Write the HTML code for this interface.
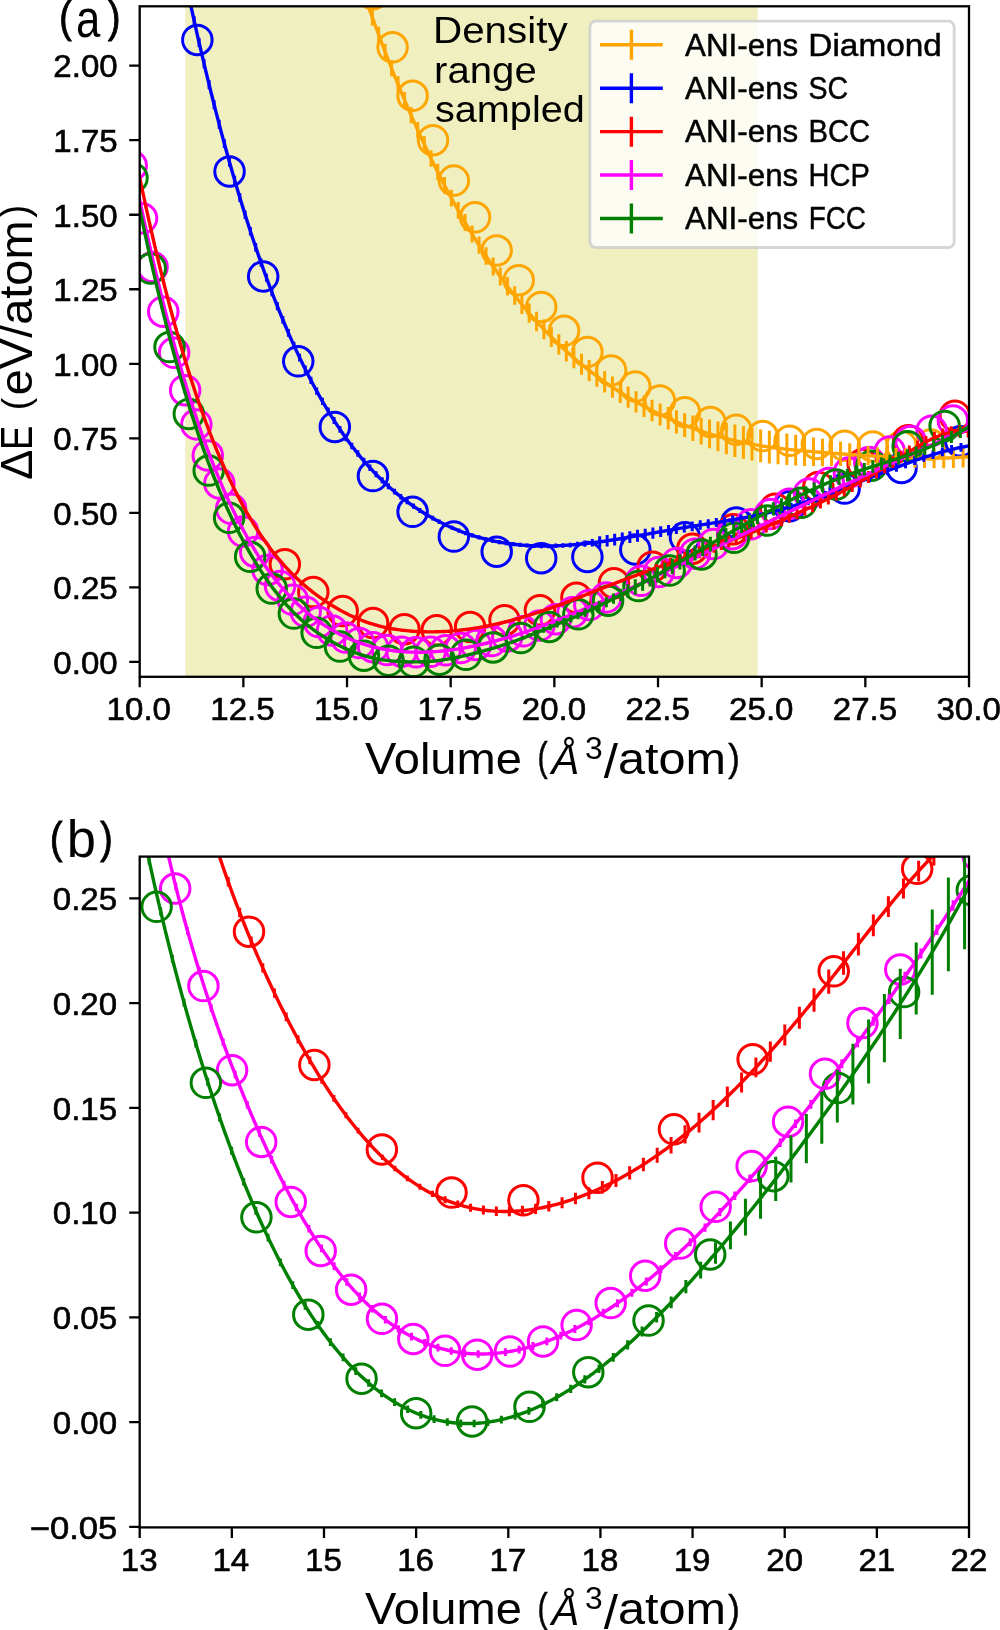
<!DOCTYPE html>
<html><head><meta charset="utf-8"><style>html,body{margin:0;padding:0;background:#fff;overflow:hidden}svg{display:block}</style></head><body>
<svg width="1000" height="1630" viewBox="0 0 1000 1630">
<rect width="1000" height="1630" fill="#fff"/>
<defs><clipPath id="ca"><rect x="139.70" y="6.30" width="829.30" height="670.50"/></clipPath>
<clipPath id="cb"><rect x="139.70" y="856.60" width="829.30" height="670.80"/></clipPath></defs>
<g clip-path="url(#ca)">
<rect x="185.3" y="0" width="572.40" height="700" fill="#EFEFBF"/>
<g fill="none" stroke="#FFA500" stroke-width="3"><circle cx="372.94" cy="-5.80" r="14.75"/><circle cx="392.57" cy="47.26" r="14.75"/><circle cx="412.60" cy="95.86" r="14.75"/><circle cx="433.02" cy="140.23" r="14.75"/><circle cx="453.84" cy="180.62" r="14.75"/><circle cx="475.06" cy="217.27" r="14.75"/><circle cx="496.70" cy="250.41" r="14.75"/><circle cx="518.74" cy="280.24" r="14.75"/><circle cx="541.21" cy="306.97" r="14.75"/><circle cx="564.09" cy="330.79" r="14.75"/><circle cx="587.39" cy="351.88" r="14.75"/><circle cx="611.13" cy="370.40" r="14.75"/><circle cx="635.29" cy="386.52" r="14.75"/><circle cx="659.89" cy="400.38" r="14.75"/><circle cx="684.93" cy="412.13" r="14.75"/><circle cx="710.41" cy="421.92" r="14.75"/><circle cx="736.34" cy="429.87" r="14.75"/><circle cx="762.72" cy="436.11" r="14.75"/><circle cx="789.56" cy="440.77" r="14.75"/><circle cx="816.85" cy="443.97" r="14.75"/><circle cx="844.61" cy="445.83" r="14.75"/><circle cx="872.83" cy="446.45" r="14.75"/><circle cx="901.52" cy="445.95" r="14.75"/><circle cx="930.69" cy="444.43" r="14.75"/><circle cx="960.33" cy="442.00" r="14.75"/></g>
<g fill="none" stroke="#0000FF" stroke-width="3"><circle cx="197.36" cy="39.97" r="14.75"/><circle cx="229.55" cy="171.45" r="14.75"/><circle cx="263.18" cy="276.46" r="14.75"/><circle cx="298.26" cy="361.33" r="14.75"/><circle cx="334.84" cy="426.97" r="14.75"/><circle cx="372.94" cy="476.06" r="14.75"/><circle cx="412.60" cy="511.81" r="14.75"/><circle cx="453.84" cy="536.59" r="14.75"/><circle cx="496.70" cy="551.74" r="14.75"/><circle cx="541.21" cy="558.18" r="14.75"/><circle cx="587.39" cy="556.92" r="14.75"/><circle cx="635.29" cy="549.39" r="14.75"/><circle cx="684.93" cy="537.37" r="14.75"/><circle cx="736.34" cy="522.60" r="14.75"/><circle cx="789.56" cy="506.28" r="14.75"/><circle cx="844.61" cy="488.54" r="14.75"/><circle cx="901.52" cy="467.98" r="14.75"/><circle cx="960.33" cy="441.32" r="14.75"/></g>
<g fill="none" stroke="#FF0000" stroke-width="3"><circle cx="284.83" cy="564.25" r="14.75"/><circle cx="313.29" cy="592.08" r="14.75"/><circle cx="342.69" cy="611.05" r="14.75"/><circle cx="373.06" cy="623.07" r="14.75"/><circle cx="404.41" cy="629.23" r="14.75"/><circle cx="436.76" cy="630.33" r="14.75"/><circle cx="470.11" cy="627.10" r="14.75"/><circle cx="504.50" cy="620.21" r="14.75"/><circle cx="539.92" cy="610.26" r="14.75"/><circle cx="576.40" cy="597.76" r="14.75"/><circle cx="613.96" cy="583.14" r="14.75"/><circle cx="652.60" cy="566.73" r="14.75"/><circle cx="692.35" cy="548.75" r="14.75"/><circle cx="733.21" cy="529.37" r="14.75"/><circle cx="775.21" cy="508.74" r="14.75"/><circle cx="818.37" cy="486.95" r="14.75"/><circle cx="862.68" cy="464.09" r="14.75"/><circle cx="908.18" cy="440.30" r="14.75"/><circle cx="954.88" cy="415.69" r="14.75"/></g>
<g fill="none" stroke="#FF00FF" stroke-width="3"><circle cx="131.71" cy="165.73" r="14.75"/><circle cx="142.05" cy="218.27" r="14.75"/><circle cx="152.56" cy="266.93" r="14.75"/><circle cx="163.25" cy="311.72" r="14.75"/><circle cx="174.11" cy="352.76" r="14.75"/><circle cx="185.15" cy="390.24" r="14.75"/><circle cx="196.37" cy="424.38" r="14.75"/><circle cx="207.77" cy="455.39" r="14.75"/><circle cx="219.36" cy="483.47" r="14.75"/><circle cx="231.13" cy="508.80" r="14.75"/><circle cx="243.08" cy="531.56" r="14.75"/><circle cx="255.22" cy="551.90" r="14.75"/><circle cx="267.55" cy="569.97" r="14.75"/><circle cx="280.07" cy="585.90" r="14.75"/><circle cx="292.77" cy="599.81" r="14.75"/><circle cx="305.68" cy="611.82" r="14.75"/><circle cx="318.77" cy="622.05" r="14.75"/><circle cx="332.06" cy="630.60" r="14.75"/><circle cx="345.55" cy="637.58" r="14.75"/><circle cx="359.24" cy="643.08" r="14.75"/><circle cx="373.12" cy="647.21" r="14.75"/><circle cx="387.21" cy="650.06" r="14.75"/><circle cx="401.50" cy="651.72" r="14.75"/><circle cx="415.99" cy="652.27" r="14.75"/><circle cx="430.69" cy="651.79" r="14.75"/><circle cx="445.60" cy="650.36" r="14.75"/><circle cx="460.71" cy="648.05" r="14.75"/><circle cx="476.04" cy="644.93" r="14.75"/><circle cx="491.57" cy="641.06" r="14.75"/><circle cx="507.32" cy="636.50" r="14.75"/><circle cx="523.29" cy="631.30" r="14.75"/><circle cx="539.46" cy="625.52" r="14.75"/><circle cx="555.86" cy="619.19" r="14.75"/><circle cx="572.47" cy="612.37" r="14.75"/><circle cx="589.31" cy="605.09" r="14.75"/><circle cx="606.37" cy="597.38" r="14.75"/><circle cx="641.15" cy="580.83" r="14.75"/><circle cx="658.88" cy="572.05" r="14.75"/><circle cx="676.83" cy="562.98" r="14.75"/><circle cx="695.02" cy="553.63" r="14.75"/><circle cx="713.43" cy="544.05" r="14.75"/><circle cx="732.08" cy="534.25" r="14.75"/><circle cx="750.96" cy="524.26" r="14.75"/><circle cx="770.08" cy="514.11" r="14.75"/><circle cx="789.43" cy="503.84" r="14.75"/><circle cx="809.02" cy="493.46" r="14.75"/><circle cx="828.84" cy="483.00" r="14.75"/><circle cx="848.91" cy="472.50" r="14.75"/><circle cx="869.22" cy="461.99" r="14.75"/><circle cx="889.77" cy="451.49" r="14.75"/><circle cx="910.57" cy="441.05" r="14.75"/><circle cx="931.61" cy="430.69" r="14.75"/><circle cx="952.90" cy="420.46" r="14.75"/></g>
<g fill="none" stroke="#008000" stroke-width="3"><circle cx="132.49" cy="177.88" r="14.75"/><circle cx="150.73" cy="268.60" r="14.75"/><circle cx="169.50" cy="347.03" r="14.75"/><circle cx="188.82" cy="413.97" r="14.75"/><circle cx="208.70" cy="470.52" r="14.75"/><circle cx="229.13" cy="517.80" r="14.75"/><circle cx="250.13" cy="556.84" r="14.75"/><circle cx="271.71" cy="588.51" r="14.75"/><circle cx="293.87" cy="613.59" r="14.75"/><circle cx="316.62" cy="632.76" r="14.75"/><circle cx="339.97" cy="646.62" r="14.75"/><circle cx="363.92" cy="655.74" r="14.75"/><circle cx="388.49" cy="660.63" r="14.75"/><circle cx="413.68" cy="661.79" r="14.75"/><circle cx="439.50" cy="659.69" r="14.75"/><circle cx="465.96" cy="654.77" r="14.75"/><circle cx="493.06" cy="647.42" r="14.75"/><circle cx="520.82" cy="638.02" r="14.75"/><circle cx="549.24" cy="626.91" r="14.75"/><circle cx="578.33" cy="614.37" r="14.75"/><circle cx="608.09" cy="600.67" r="14.75"/><circle cx="638.54" cy="586.01" r="14.75"/><circle cx="669.67" cy="570.56" r="14.75"/><circle cx="701.51" cy="554.45" r="14.75"/><circle cx="734.06" cy="537.76" r="14.75"/><circle cx="767.32" cy="520.53" r="14.75"/><circle cx="801.31" cy="502.80" r="14.75"/><circle cx="836.02" cy="484.52" r="14.75"/><circle cx="871.47" cy="465.67" r="14.75"/><circle cx="907.67" cy="446.17" r="14.75"/><circle cx="944.63" cy="425.93" r="14.75"/></g>
<path d="M355.32 -31.61 L356.89 -26.92 L358.46 -22.26 L360.03 -17.64 L361.59 -13.06 L363.16 -8.50 L364.73 -3.98 L366.30 0.51 L367.87 4.96 L369.44 9.38 L371.01 13.77 L372.58 18.13 L374.15 22.45 L375.72 26.74 L377.29 31.00 L378.86 35.23 L380.43 39.42 L381.99 43.59 L383.56 47.72 L385.13 51.82 L386.70 55.88 L388.27 59.92 L389.84 63.93 L391.41 67.90 L392.98 71.85 L394.55 75.76 L396.12 79.65 L397.69 83.50 L399.26 87.32 L400.83 91.11 L402.39 94.88 L403.96 98.61 L405.53 102.31 L407.10 105.99 L408.67 109.63 L410.24 113.25 L411.81 116.83 L413.38 120.39 L414.95 123.92 L416.52 127.42 L418.09 130.89 L419.66 134.33 L421.23 137.75 L422.79 141.14 L424.36 144.49 L425.93 147.83 L427.50 151.13 L429.07 154.41 L430.64 157.65 L432.21 160.88 L433.78 164.07 L435.35 167.24 L436.92 170.38 L438.49 173.49 L440.06 176.58 L441.63 179.64 L443.19 182.68 L444.76 185.69 L446.33 188.67 L447.90 191.63 L449.47 194.56 L451.04 197.47 L452.61 200.35 L454.18 203.20 L455.75 206.03 L457.32 208.84 L458.89 211.62 L460.46 214.38 L462.03 217.11 L463.59 219.82 L465.16 222.50 L466.73 225.16 L468.30 227.80 L469.87 230.41 L471.44 233.00 L473.01 235.56 L474.58 238.10 L476.15 240.62 L477.72 243.12 L479.29 245.59 L480.86 248.04 L482.43 250.47 L483.99 252.87 L485.56 255.25 L487.13 257.61 L488.70 259.95 L490.27 262.27 L491.84 264.56 L493.41 266.84 L494.98 269.09 L496.55 271.32 L498.12 273.53 L499.69 275.72 L501.26 277.88 L502.83 280.03 L504.39 282.16 L505.96 284.26 L507.53 286.35 L509.10 288.41 L510.67 290.46 L512.24 292.48 L513.81 294.49 L515.38 296.48 L516.95 298.44 L518.52 300.39 L520.09 302.32 L521.66 304.23 L523.23 306.12 L524.79 307.99 L526.36 309.84 L527.93 311.68 L529.50 313.49 L531.07 315.29 L532.64 317.07 L534.21 318.83 L535.78 320.58 L537.35 322.30 L538.92 324.01 L540.49 325.71 L542.06 327.38 L543.63 329.04 L545.19 330.68 L546.76 332.31 L548.33 333.91 L549.90 335.51 L551.47 337.08 L553.04 338.64 L554.61 340.18 L556.18 341.71 L557.75 343.22 L559.32 344.72 L560.89 346.20 L562.46 347.67 L564.03 349.12 L565.59 350.55 L567.16 351.97 L568.73 353.38 L570.30 354.77 L571.87 356.15 L573.44 357.51 L575.01 358.86 L576.58 360.19 L578.15 361.51 L579.72 362.82 L581.29 364.11 L582.86 365.40 L584.43 366.66 L585.99 367.92 L587.56 369.16 L589.13 370.39 L590.70 371.60 L592.27 372.80 L593.84 373.99 L595.41 375.17 L596.98 376.34 L598.55 377.49 L600.12 378.64 L601.69 379.77 L603.26 380.89 L604.83 381.99 L606.39 383.09 L607.96 384.18 L609.53 385.25 L611.10 386.31 L612.67 387.37 L614.24 388.41 L615.81 389.44 L617.38 390.46 L618.95 391.47 L620.52 392.48 L622.09 393.47 L623.66 394.45 L625.23 395.42 L626.79 396.38 L628.36 397.33 L629.93 398.27 L631.50 399.20 L633.07 400.12 L634.64 401.03 L636.21 401.93 L637.78 402.82 L639.35 403.71 L640.92 404.58 L642.49 405.44 L644.06 406.29 L645.62 407.14 L647.19 407.97 L648.76 408.79 L650.33 409.61 L651.90 410.41 L653.47 411.21 L655.04 411.99 L656.61 412.77 L658.18 413.54 L659.75 414.30 L661.32 415.05 L662.89 415.79 L664.46 416.52 L666.02 417.24 L667.59 417.96 L669.16 418.66 L670.73 419.36 L672.30 420.04 L673.87 420.72 L675.44 421.39 L677.01 422.05 L678.58 422.70 L680.15 423.34 L681.72 423.98 L683.29 424.60 L684.86 425.22 L686.42 425.83 L687.99 426.43 L689.56 427.02 L691.13 427.61 L692.70 428.18 L694.27 428.75 L695.84 429.31 L697.41 429.86 L698.98 430.40 L700.55 430.94 L702.12 431.47 L703.69 431.98 L705.26 432.50 L706.82 433.00 L708.39 433.49 L709.96 433.98 L711.53 434.46 L713.10 434.93 L714.67 435.40 L716.24 435.85 L717.81 436.30 L719.38 436.74 L720.95 437.18 L722.52 437.60 L724.09 438.02 L725.66 438.43 L727.22 438.84 L728.79 439.23 L730.36 439.62 L731.93 440.01 L733.50 440.38 L735.07 440.75 L736.64 441.11 L738.21 441.46 L739.78 441.81 L741.35 442.15 L742.92 442.48 L744.49 442.81 L746.06 443.13 L747.62 443.44 L749.19 443.75 L750.76 444.05 L752.33 444.34 L753.90 444.63 L755.47 444.90 L757.04 445.18 L758.61 445.44 L760.18 445.70 L761.75 445.96 L763.32 446.20 L764.89 446.44 L766.46 446.68 L768.02 446.91 L769.59 447.13 L771.16 447.35 L772.73 447.56 L774.30 447.77 L775.87 447.97 L777.44 448.17 L779.01 448.37 L780.58 448.55 L782.15 448.74 L783.72 448.92 L785.29 449.10 L786.86 449.27 L788.42 449.44 L789.99 449.60 L791.56 449.77 L793.13 449.92 L794.70 450.08 L796.27 450.23 L797.84 450.38 L799.41 450.53 L800.98 450.68 L802.55 450.82 L804.12 450.96 L805.69 451.10 L807.26 451.24 L808.82 451.37 L810.39 451.51 L811.96 451.64 L813.53 451.77 L815.10 451.90 L816.67 452.03 L818.24 452.15 L819.81 452.28 L821.38 452.40 L822.95 452.52 L824.52 452.64 L826.09 452.76 L827.66 452.88 L829.22 453.00 L830.79 453.12 L832.36 453.23 L833.93 453.35 L835.50 453.46 L837.07 453.57 L838.64 453.68 L840.21 453.79 L841.78 453.90 L843.35 454.01 L844.92 454.12 L846.49 454.23 L848.06 454.34 L849.62 454.45 L851.19 454.55 L852.76 454.66 L854.33 454.77 L855.90 454.87 L857.47 454.98 L859.04 455.08 L860.61 455.19 L862.18 455.29 L863.75 455.40 L865.32 455.50 L866.89 455.61 L868.46 455.71 L870.02 455.81 L871.59 455.91 L873.16 456.01 L874.73 456.11 L876.30 456.21 L877.87 456.30 L879.44 456.40 L881.01 456.49 L882.58 456.59 L884.15 456.68 L885.72 456.77 L887.29 456.85 L888.86 456.94 L890.42 457.02 L891.99 457.11 L893.56 457.18 L895.13 457.26 L896.70 457.34 L898.27 457.41 L899.84 457.48 L901.41 457.55 L902.98 457.61 L904.55 457.67 L906.12 457.73 L907.69 457.79 L909.26 457.84 L910.82 457.89 L912.39 457.94 L913.96 457.98 L915.53 458.02 L917.10 458.06 L918.67 458.09 L920.24 458.12 L921.81 458.15 L923.38 458.17 L924.95 458.19 L926.52 458.20 L928.09 458.22 L929.66 458.22 L931.22 458.22 L932.79 458.22 L934.36 458.21 L935.93 458.20 L937.50 458.18 L939.07 458.16 L940.64 458.14 L942.21 458.11 L943.78 458.07 L945.35 458.03 L946.92 457.98 L948.49 457.93 L950.05 457.88 L951.62 457.81 L953.19 457.75 L954.76 457.67 L956.33 457.59 L957.90 457.51 L959.47 457.42 L961.04 457.32 L962.61 457.22 L964.18 457.11 L965.75 456.99 L967.32 456.87 L968.89 456.74 L970.45 456.61 L972.02 456.47 L973.59 456.32 L975.16 456.17 L976.73 456.00 L978.30 455.84 L979.87 455.66 L981.44 455.48" fill="none" stroke="#FFA500" stroke-width="3.4" stroke-linejoin="round"/><path d="M347.36 -47.88V-63.98 M353.55 -28.90V-45.00 M359.77 -10.33V-26.43 M366.05 7.82V-8.27 M372.36 25.56V9.46 M378.71 42.89V26.79 M385.11 59.79V43.70 M391.54 76.28V60.19 M398.02 92.36V76.26 M404.54 108.04V91.90 M411.10 123.33V107.10 M417.71 138.20V121.89 M424.35 152.66V136.27 M431.04 166.72V150.24 M437.77 180.36V163.79 M444.54 193.59V176.94 M451.36 206.42V189.69 M458.22 218.85V202.03 M465.12 230.89V213.98 M472.07 242.53V225.52 M479.06 253.87V236.59 M486.09 264.82V247.28 M493.17 275.39V257.58 M500.29 285.58V267.51 M507.45 295.41V277.07 M514.66 304.87V286.26 M521.91 313.97V295.09 M529.20 322.72V303.57 M536.54 331.13V311.71 M543.93 339.21V319.51 M551.36 346.96V326.98 M558.83 354.39V334.13 M566.35 361.51V340.97 M573.92 368.33V347.51 M581.53 374.77V353.85 M589.18 380.91V359.94 M596.88 386.78V365.75 M604.63 392.40V371.31 M612.42 397.77V376.62 M620.26 402.92V381.70 M628.14 407.83V386.56 M636.07 412.52V391.19 M644.05 416.98V395.59 M652.07 421.23V399.77 M660.14 425.48V403.49 M668.25 429.54V406.96 M676.42 433.39V410.21 M684.63 437.03V413.24 M692.88 440.90V415.59 M701.19 444.62V417.69 M709.54 448.13V419.57 M717.94 451.27V421.41 M726.38 454.20V423.04 M734.88 456.93V424.48 M743.42 458.87V426.31 M752.01 460.60V427.96 M760.65 462.14V429.42 M769.33 463.48V430.71 M778.07 464.34V432.16 M786.85 465.05V433.48 M795.68 465.52V434.83 M804.56 465.89V436.11 M813.49 466.05V437.49 M822.47 466.14V438.83 M831.50 466.07V440.27 M840.58 465.95V441.69 M849.71 465.69V443.22 M858.88 465.42V444.72 M868.11 465.26V446.11 M877.39 465.25V447.30 M886.71 465.97V447.67 M896.09 466.63V447.98 M905.52 467.21V448.21 M915.00 467.69V448.33 M924.52 468.04V448.33 M934.10 468.19V448.24 M943.73 468.17V447.97 M953.41 467.97V447.51 M963.15 467.54V446.82 M972.93 466.82V445.95" fill="none" stroke="#FFA500" stroke-width="3.0"/>
<path d="M181.16 -40.00 L183.17 -30.30 L185.18 -20.72 L187.18 -11.26 L189.19 -1.92 L191.19 7.30 L193.20 16.41 L195.20 25.40 L197.21 34.27 L199.22 43.03 L201.22 51.68 L203.23 60.22 L205.23 68.64 L207.24 76.96 L209.24 85.17 L211.25 93.27 L213.26 101.26 L215.26 109.15 L217.27 116.93 L219.27 124.61 L221.28 132.19 L223.28 139.66 L225.29 147.04 L227.30 154.31 L229.30 161.49 L231.31 168.56 L233.31 175.54 L235.32 182.43 L237.32 189.21 L239.33 195.91 L241.34 202.51 L243.34 209.02 L245.35 215.44 L247.35 221.77 L249.36 228.00 L251.36 234.16 L253.37 240.22 L255.38 246.20 L257.38 252.09 L259.39 257.90 L261.39 263.62 L263.40 269.26 L265.40 274.82 L267.41 280.30 L269.42 285.69 L271.42 291.00 L273.43 296.24 L275.43 301.40 L277.44 306.47 L279.44 311.47 L281.45 316.40 L283.46 321.24 L285.46 326.01 L287.47 330.71 L289.47 335.33 L291.48 339.88 L293.48 344.36 L295.49 348.76 L297.50 353.10 L299.50 357.36 L301.51 361.55 L303.51 365.68 L305.52 369.73 L307.52 373.72 L309.53 377.64 L311.54 381.49 L313.54 385.28 L315.55 389.00 L317.55 392.66 L319.56 396.26 L321.56 399.79 L323.57 403.26 L325.58 406.67 L327.58 410.02 L329.59 413.30 L331.59 416.53 L333.60 419.70 L335.60 422.82 L337.61 425.87 L339.62 428.87 L341.62 431.81 L343.63 434.70 L345.63 437.53 L347.64 440.31 L349.64 443.03 L351.65 445.71 L353.66 448.33 L355.66 450.90 L357.67 453.42 L359.67 455.89 L361.68 458.31 L363.68 460.69 L365.69 463.01 L367.70 465.29 L369.70 467.53 L371.71 469.71 L373.71 471.86 L375.72 473.96 L377.72 476.01 L379.73 478.03 L381.74 480.00 L383.74 481.93 L385.75 483.82 L387.75 485.67 L389.76 487.48 L391.76 489.26 L393.77 490.99 L395.77 492.69 L397.78 494.35 L399.79 495.98 L401.79 497.57 L403.80 499.13 L405.80 500.65 L407.81 502.15 L409.81 503.61 L411.82 505.03 L413.83 506.43 L415.83 507.80 L417.84 509.14 L419.84 510.45 L421.85 511.73 L423.85 512.98 L425.86 514.21 L427.87 515.41 L429.87 516.58 L431.88 517.72 L433.88 518.84 L435.89 519.93 L437.89 521.00 L439.90 522.03 L441.91 523.05 L443.91 524.03 L445.92 524.99 L447.92 525.93 L449.93 526.84 L451.93 527.73 L453.94 528.59 L455.95 529.43 L457.95 530.24 L459.96 531.03 L461.96 531.80 L463.97 532.54 L465.97 533.27 L467.98 533.96 L469.99 534.64 L471.99 535.29 L474.00 535.92 L476.00 536.53 L478.01 537.12 L480.01 537.69 L482.02 538.23 L484.03 538.76 L486.03 539.26 L488.04 539.75 L490.04 540.21 L492.05 540.65 L494.05 541.08 L496.06 541.48 L498.07 541.87 L500.07 542.23 L502.08 542.58 L504.08 542.91 L506.09 543.22 L508.09 543.52 L510.10 543.79 L512.11 544.05 L514.11 544.29 L516.12 544.52 L518.12 544.72 L520.13 544.92 L522.13 545.09 L524.14 545.25 L526.15 545.39 L528.15 545.52 L530.16 545.63 L532.16 545.73 L534.17 545.81 L536.17 545.88 L538.18 545.93 L540.19 545.97 L542.19 545.99 L544.20 546.01 L546.20 546.00 L548.21 545.99 L550.21 545.96 L552.22 545.92 L554.23 545.87 L556.23 545.80 L558.24 545.72 L560.24 545.63 L562.25 545.53 L564.25 545.42 L566.26 545.30 L568.27 545.17 L570.27 545.02 L572.28 544.87 L574.28 544.70 L576.29 544.53 L578.29 544.35 L580.30 544.15 L582.31 543.95 L584.31 543.74 L586.32 543.52 L588.32 543.29 L590.33 543.06 L592.33 542.81 L594.34 542.56 L596.35 542.30 L598.35 542.04 L600.36 541.76 L602.36 541.48 L604.37 541.20 L606.37 540.91 L608.38 540.61 L610.38 540.30 L612.39 540.00 L614.40 539.68 L616.40 539.36 L618.41 539.04 L620.41 538.71 L622.42 538.38 L624.42 538.05 L626.43 537.71 L628.44 537.37 L630.44 537.02 L632.45 536.68 L634.45 536.33 L636.46 535.97 L638.46 535.62 L640.47 535.26 L642.48 534.91 L644.48 534.55 L646.49 534.19 L648.49 533.83 L650.50 533.47 L652.50 533.11 L654.51 532.75 L656.52 532.39 L658.52 532.03 L660.53 531.67 L662.53 531.31 L664.54 530.96 L666.54 530.60 L668.55 530.25 L670.56 529.90 L672.56 529.55 L674.57 529.21 L676.57 528.87 L678.58 528.53 L680.58 528.19 L682.59 527.86 L684.60 527.53 L686.60 527.21 L688.61 526.88 L690.61 526.56 L692.62 526.25 L694.62 525.93 L696.63 525.61 L698.64 525.30 L700.64 524.99 L702.65 524.67 L704.65 524.36 L706.66 524.05 L708.66 523.73 L710.67 523.42 L712.68 523.10 L714.68 522.79 L716.69 522.47 L718.69 522.15 L720.70 521.82 L722.70 521.50 L724.71 521.17 L726.72 520.84 L728.72 520.50 L730.73 520.17 L732.73 519.82 L734.74 519.47 L736.74 519.12 L738.75 518.77 L740.76 518.40 L742.76 518.03 L744.77 517.66 L746.77 517.28 L748.78 516.89 L750.78 516.50 L752.79 516.09 L754.80 515.68 L756.80 515.27 L758.81 514.84 L760.81 514.41 L762.82 513.97 L764.82 513.51 L766.83 513.05 L768.84 512.58 L770.84 512.10 L772.85 511.61 L774.85 511.11 L776.86 510.59 L778.86 510.07 L780.87 509.53 L782.88 508.99 L784.88 508.43 L786.89 507.86 L788.89 507.28 L790.90 506.69 L792.90 506.08 L794.91 505.47 L796.92 504.85 L798.92 504.22 L800.93 503.58 L802.93 502.93 L804.94 502.27 L806.94 501.60 L808.95 500.93 L810.95 500.24 L812.96 499.55 L814.97 498.86 L816.97 498.15 L818.98 497.44 L820.98 496.72 L822.99 495.99 L824.99 495.26 L827.00 494.52 L829.01 493.78 L831.01 493.03 L833.02 492.28 L835.02 491.52 L837.03 490.76 L839.03 489.99 L841.04 489.22 L843.05 488.44 L845.05 487.66 L847.06 486.88 L849.06 486.10 L851.07 485.31 L853.07 484.52 L855.08 483.73 L857.09 482.93 L859.09 482.14 L861.10 481.34 L863.10 480.54 L865.11 479.74 L867.11 478.94 L869.12 478.14 L871.13 477.34 L873.13 476.54 L875.14 475.74 L877.14 474.94 L879.15 474.14 L881.15 473.35 L883.16 472.55 L885.17 471.76 L887.17 470.97 L889.18 470.19 L891.18 469.41 L893.19 468.63 L895.19 467.86 L897.20 467.09 L899.21 466.33 L901.21 465.57 L903.22 464.82 L905.22 464.07 L907.23 463.33 L909.23 462.60 L911.24 461.88 L913.25 461.16 L915.25 460.45 L917.26 459.75 L919.26 459.06 L921.27 458.38 L923.27 457.71 L925.28 457.05 L927.29 456.40 L929.29 455.76 L931.30 455.13 L933.30 454.51 L935.31 453.91 L937.31 453.31 L939.32 452.73 L941.33 452.17 L943.33 451.61 L945.34 451.07 L947.34 450.55 L949.35 450.04 L951.35 449.54 L953.36 449.06 L955.37 448.60 L957.37 448.15 L959.38 447.72 L961.38 447.30 L963.39 446.91 L965.39 446.53 L967.40 446.16 L969.41 445.82 L971.41 445.50 L973.42 445.19 L975.42 444.91 L977.43 444.64 L979.43 444.40 L981.44 444.17" fill="none" stroke="#0000FF" stroke-width="3.4" stroke-linejoin="round"/><path d="M179.55 -43.43V-52.37 M184.38 -20.02V-28.96 M189.25 2.86V-6.09 M194.16 25.19V16.25 M199.10 46.98V38.04 M204.07 68.24V59.30 M209.08 88.96V80.01 M214.12 109.14V100.20 M219.20 128.79V119.85 M224.31 147.90V138.98 M229.46 166.44V157.62 M234.64 184.46V175.74 M239.86 201.97V193.33 M245.11 218.95V210.41 M250.40 235.43V226.98 M255.72 251.40V243.05 M261.09 266.87V258.62 M266.48 281.85V273.69 M271.91 296.33V288.27 M277.38 310.31V302.36 M282.89 323.81V315.95 M288.43 336.82V329.06 M294.01 349.35V341.69 M299.62 361.40V353.84 M305.28 372.97V365.52 M310.97 384.08V376.73 M316.69 394.73V387.47 M322.45 404.91V397.76 M328.26 414.65V407.61 M334.09 423.95V417.01 M339.97 432.81V425.97 M345.88 441.24V434.51 M351.83 449.26V442.64 M357.82 456.87V450.36 M363.85 464.08V457.68 M369.91 470.91V464.61 M376.02 477.36V471.17 M382.16 483.45V477.37 M388.34 489.19V483.22 M394.56 494.56V488.77 M400.81 499.60V494.00 M407.11 504.34V498.92 M413.45 508.79V503.55 M419.82 512.96V507.90 M426.23 516.87V512.00 M432.69 520.52V515.83 M439.18 523.92V519.41 M445.71 527.06V522.74 M452.28 529.97V525.79 M458.90 532.70V528.53 M465.55 535.20V531.03 M472.24 537.46V533.28 M478.97 539.48V535.31 M485.74 541.28V537.10 M492.56 542.85V538.68 M499.41 544.20V540.03 M506.30 545.34V541.17 M513.24 546.28V542.10 M520.21 547.01V542.84 M527.23 547.55V543.38 M534.29 547.91V543.72 M541.39 548.13V543.84 M548.53 548.18V543.79 M555.71 548.06V543.57 M562.93 547.79V543.20 M570.20 547.38V542.68 M577.51 546.98V541.86 M584.85 546.77V540.59 M592.25 546.55V539.10 M599.68 547.45V536.26 M607.16 546.51V535.07 M614.67 545.42V533.86 M622.24 544.25V532.57 M629.84 543.03V531.22 M637.49 541.75V529.83 M645.18 540.22V528.63 M652.91 538.66V527.41 M660.68 537.10V526.19 M668.50 535.55V524.97 M676.37 534.02V523.78 M684.27 532.57V522.60 M692.22 531.18V521.43 M700.22 529.81V520.29 M708.25 528.44V519.15 M716.33 527.05V518.00 M724.46 525.62V516.80 M732.63 524.13V515.55 M740.85 522.56V514.21 M749.10 520.88V512.77 M757.41 519.08V511.20 M765.76 517.19V509.41 M774.15 515.20V507.37 M782.59 513.00V505.13 M791.07 510.59V502.67 M799.60 507.99V500.02 M808.17 505.20V497.18 M816.79 502.25V494.18 M825.46 499.15V491.03 M834.17 495.93V487.76 M842.93 492.60V484.38 M851.73 489.18V480.92 M860.58 485.71V477.39 M869.47 482.19V473.81 M878.41 478.65V470.22 M887.40 475.12V466.65 M896.44 471.64V463.12 M905.52 468.25V459.67 M914.65 464.98V456.35 M923.82 461.87V453.19 M933.04 458.96V450.22 M942.31 456.29V447.50 M951.63 453.90V445.05 M960.99 451.83V442.93 M970.40 450.13V441.19" fill="none" stroke="#0000FF" stroke-width="3.0"/>
<path d="M131.41 136.39 L133.54 147.21 L135.67 157.86 L137.80 168.33 L139.93 178.64 L142.06 188.78 L144.19 198.75 L146.32 208.55 L148.45 218.20 L150.58 227.68 L152.71 237.00 L154.84 246.16 L156.97 255.17 L159.10 264.02 L161.23 272.72 L163.36 281.26 L165.49 289.65 L167.62 297.90 L169.75 305.99 L171.88 313.94 L174.02 321.75 L176.15 329.41 L178.28 336.93 L180.41 344.31 L182.54 351.55 L184.67 358.65 L186.80 365.62 L188.93 372.45 L191.06 379.15 L193.19 385.72 L195.32 392.16 L197.45 398.47 L199.58 404.66 L201.71 410.72 L203.84 416.66 L205.97 422.47 L208.10 428.17 L210.23 433.75 L212.36 439.21 L214.49 444.55 L216.62 449.78 L218.75 454.90 L220.88 459.90 L223.01 464.80 L225.14 469.59 L227.28 474.27 L229.41 478.85 L231.54 483.32 L233.67 487.69 L235.80 491.97 L237.93 496.14 L240.06 500.21 L242.19 504.19 L244.32 508.08 L246.45 511.87 L248.58 515.57 L250.71 519.19 L252.84 522.71 L254.97 526.15 L257.10 529.50 L259.23 532.77 L261.36 535.96 L263.49 539.06 L265.62 542.09 L267.75 545.04 L269.88 547.92 L272.01 550.72 L274.14 553.45 L276.27 556.10 L278.41 558.69 L280.54 561.21 L282.67 563.66 L284.80 566.05 L286.93 568.37 L289.06 570.64 L291.19 572.84 L293.32 574.98 L295.45 577.07 L297.58 579.09 L299.71 581.07 L301.84 582.99 L303.97 584.86 L306.10 586.68 L308.23 588.46 L310.36 590.18 L312.49 591.87 L314.62 593.50 L316.75 595.10 L318.88 596.65 L321.01 598.17 L323.14 599.65 L325.27 601.09 L327.40 602.50 L329.53 603.87 L331.67 605.21 L333.80 606.51 L335.93 607.78 L338.06 609.01 L340.19 610.21 L342.32 611.37 L344.45 612.50 L346.58 613.59 L348.71 614.65 L350.84 615.67 L352.97 616.66 L355.10 617.61 L357.23 618.53 L359.36 619.41 L361.49 620.26 L363.62 621.07 L365.75 621.84 L367.88 622.58 L370.01 623.29 L372.14 623.96 L374.27 624.60 L376.40 625.20 L378.53 625.78 L380.66 626.32 L382.80 626.83 L384.93 627.31 L387.06 627.76 L389.19 628.19 L391.32 628.59 L393.45 628.96 L395.58 629.30 L397.71 629.62 L399.84 629.92 L401.97 630.19 L404.10 630.43 L406.23 630.66 L408.36 630.87 L410.49 631.05 L412.62 631.21 L414.75 631.36 L416.88 631.48 L419.01 631.59 L421.14 631.68 L423.27 631.75 L425.40 631.80 L427.53 631.83 L429.66 631.85 L431.79 631.85 L433.92 631.83 L436.06 631.79 L438.19 631.73 L440.32 631.66 L442.45 631.57 L444.58 631.47 L446.71 631.34 L448.84 631.20 L450.97 631.04 L453.10 630.87 L455.23 630.68 L457.36 630.48 L459.49 630.26 L461.62 630.02 L463.75 629.77 L465.88 629.50 L468.01 629.21 L470.14 628.92 L472.27 628.60 L474.40 628.27 L476.53 627.93 L478.66 627.57 L480.79 627.20 L482.92 626.82 L485.05 626.42 L487.19 626.00 L489.32 625.57 L491.45 625.13 L493.58 624.68 L495.71 624.21 L497.84 623.73 L499.97 623.23 L502.10 622.73 L504.23 622.21 L506.36 621.67 L508.49 621.13 L510.62 620.57 L512.75 620.00 L514.88 619.42 L517.01 618.83 L519.14 618.22 L521.27 617.61 L523.40 616.98 L525.53 616.34 L527.66 615.69 L529.79 615.03 L531.92 614.37 L534.05 613.69 L536.18 613.00 L538.31 612.30 L540.45 611.59 L542.58 610.87 L544.71 610.15 L546.84 609.41 L548.97 608.67 L551.10 607.92 L553.23 607.16 L555.36 606.39 L557.49 605.62 L559.62 604.84 L561.75 604.05 L563.88 603.26 L566.01 602.45 L568.14 601.65 L570.27 600.83 L572.40 600.01 L574.53 599.19 L576.66 598.36 L578.79 597.52 L580.92 596.69 L583.05 595.85 L585.18 595.01 L587.31 594.16 L589.44 593.32 L591.57 592.47 L593.71 591.63 L595.84 590.78 L597.97 589.93 L600.10 589.09 L602.23 588.25 L604.36 587.41 L606.49 586.57 L608.62 585.74 L610.75 584.91 L612.88 584.08 L615.01 583.26 L617.14 582.44 L619.27 581.63 L621.40 580.81 L623.53 580.00 L625.66 579.20 L627.79 578.39 L629.92 577.59 L632.05 576.79 L634.18 576.00 L636.31 575.20 L638.44 574.41 L640.57 573.62 L642.70 572.84 L644.84 572.05 L646.97 571.27 L649.10 570.48 L651.23 569.70 L653.36 568.93 L655.49 568.15 L657.62 567.37 L659.75 566.59 L661.88 565.82 L664.01 565.05 L666.14 564.27 L668.27 563.50 L670.40 562.73 L672.53 561.96 L674.66 561.18 L676.79 560.41 L678.92 559.64 L681.05 558.87 L683.18 558.10 L685.31 557.33 L687.44 556.55 L689.57 555.78 L691.70 555.01 L693.83 554.23 L695.96 553.46 L698.10 552.68 L700.23 551.90 L702.36 551.12 L704.49 550.34 L706.62 549.56 L708.75 548.78 L710.88 547.99 L713.01 547.21 L715.14 546.42 L717.27 545.63 L719.40 544.83 L721.53 544.04 L723.66 543.24 L725.79 542.44 L727.92 541.64 L730.05 540.83 L732.18 540.02 L734.31 539.21 L736.44 538.39 L738.57 537.58 L740.70 536.76 L742.83 535.93 L744.96 535.10 L747.09 534.27 L749.23 533.43 L751.36 532.59 L753.49 531.75 L755.62 530.90 L757.75 530.05 L759.88 529.19 L762.01 528.33 L764.14 527.46 L766.27 526.59 L768.40 525.72 L770.53 524.84 L772.66 523.95 L774.79 523.06 L776.92 522.16 L779.05 521.26 L781.18 520.35 L783.31 519.44 L785.44 518.52 L787.57 517.60 L789.70 516.67 L791.83 515.73 L793.96 514.79 L796.09 513.84 L798.22 512.88 L800.35 511.92 L802.49 510.95 L804.62 509.97 L806.75 508.99 L808.88 508.00 L811.01 507.00 L813.14 506.00 L815.27 504.99 L817.40 503.97 L819.53 502.94 L821.66 501.90 L823.79 500.86 L825.92 499.81 L828.05 498.75 L830.18 497.68 L832.31 496.61 L834.44 495.52 L836.57 494.43 L838.70 493.33 L840.83 492.22 L842.96 491.10 L845.09 489.97 L847.22 488.84 L849.35 487.69 L851.48 486.53 L853.62 485.37 L855.75 484.19 L857.88 483.01 L860.01 481.81 L862.14 480.61 L864.27 479.39 L866.40 478.17 L868.53 476.93 L870.66 475.69 L872.79 474.43 L874.92 473.16 L877.05 471.89 L879.18 470.60 L881.31 469.30 L883.44 467.99 L885.57 466.66 L887.70 465.33 L889.83 463.99 L891.96 462.63 L894.09 461.26 L896.22 459.89 L898.35 458.52 L900.48 457.15 L902.61 455.78 L904.74 454.41 L906.88 453.06 L909.01 451.72 L911.14 450.39 L913.27 449.09 L915.40 447.80 L917.53 446.54 L919.66 445.31 L921.79 444.11 L923.92 442.94 L926.05 441.81 L928.18 440.71 L930.31 439.67 L932.44 438.66 L934.57 437.71 L936.70 436.81 L938.83 435.96 L940.96 435.18 L943.09 434.45 L945.22 433.79 L947.35 433.19 L949.48 432.67 L951.61 432.22 L953.74 431.84 L955.87 431.55 L958.01 431.34 L960.14 431.21 L962.27 431.17 L964.40 431.23 L966.53 431.38 L968.66 431.62 L970.79 431.97 L972.92 432.42 L975.05 432.98 L977.18 433.65 L979.31 434.43 L981.44 435.33" fill="none" stroke="#FF0000" stroke-width="3.4" stroke-linejoin="round"/><path d="M133.74 149.00V147.51 M137.84 169.26V167.77 M141.95 189.02V187.53 M146.10 208.29V206.80 M150.27 227.05V225.57 M154.47 245.32V243.85 M158.70 263.09V261.62 M162.95 280.37V278.90 M167.24 297.15V295.68 M171.55 313.43V311.97 M175.89 329.22V327.76 M180.25 344.51V343.06 M184.65 359.32V357.87 M189.07 373.63V372.19 M193.52 387.46V386.03 M198.00 400.81V399.38 M202.51 413.69V412.26 M207.05 426.09V424.66 M211.62 438.02V436.60 M216.21 449.48V448.07 M220.83 460.49V459.08 M225.49 471.05V469.64 M230.17 481.16V479.76 M234.88 490.83V489.43 M239.62 500.08V498.68 M244.39 508.90V507.50 M249.18 517.30V515.92 M254.01 525.30V523.92 M258.87 532.91V531.53 M263.75 540.13V538.76 M268.67 546.98V545.61 M273.62 553.46V552.10 M278.59 559.60V558.24 M283.60 565.39V564.04 M288.64 570.87V569.52 M293.70 576.03V574.69 M298.80 580.90V579.56 M303.93 585.49V584.16 M309.08 589.82V588.49 M314.27 593.90V592.58 M319.49 597.75V596.43 M324.74 601.39V600.08 M330.02 604.81V603.55 M335.33 608.02V606.84 M340.67 611.03V609.93 M346.05 613.84V612.81 M351.45 616.44V615.49 M356.89 618.82V617.95 M362.36 620.99V620.19 M367.85 622.93V622.22 M373.38 624.71V623.96 M378.95 626.28V625.49 M384.54 627.64V626.82 M390.16 628.80V627.95 M395.82 629.78V628.89 M401.51 630.62V629.64 M407.23 631.29V630.22 M412.99 631.82V630.66 M418.77 632.21V630.95 M424.59 632.45V631.12 M430.44 632.54V631.16 M436.32 632.49V631.08 M442.24 632.31V630.85 M448.19 632.00V630.49 M454.17 631.57V629.99 M460.18 631.01V629.35 M466.23 630.32V628.59 M472.31 629.49V627.70 M478.42 628.53V626.70 M484.57 627.44V625.57 M490.75 626.24V624.32 M496.96 624.99V622.87 M503.21 623.62V621.30 M509.49 622.18V619.56 M515.80 620.57V617.76 M522.15 618.78V615.92 M528.53 616.89V613.97 M534.95 614.83V611.97 M541.40 612.67V609.87 M547.88 610.50V607.61 M554.40 608.23V605.25 M560.95 605.93V602.77 M567.54 603.55V600.20 M574.16 601.05V597.61 M580.81 598.41V595.05 M587.51 595.71V592.47 M594.23 592.97V589.86 M600.99 590.22V587.25 M607.79 587.50V584.63 M614.62 584.89V581.94 M621.48 582.31V579.26 M628.38 579.75V576.60 M635.32 577.20V573.95 M642.29 575.20V570.78 M649.30 573.42V567.40 M656.34 571.65V564.03 M663.42 569.81V560.71 M670.53 567.65V557.71 M677.68 565.49V554.69 M684.87 563.32V551.66 M692.09 560.83V548.90 M699.35 558.19V546.26 M706.64 555.51V543.59 M713.97 552.81V540.89 M721.34 550.07V538.15 M728.74 547.29V535.36 M736.18 544.46V532.53 M743.66 541.57V529.65 M751.17 538.63V526.70 M758.72 535.62V523.69 M766.31 532.54V520.61 M773.94 529.38V517.46 M781.60 526.14V514.22 M789.30 522.81V510.88 M797.03 519.38V507.46 M804.80 515.85V503.92 M812.62 512.21V500.28 M820.46 508.45V496.52 M828.35 504.56V492.64 M836.27 500.55V488.62 M844.24 496.39V484.47 M852.24 492.09V480.16 M860.27 487.62V475.70 M868.35 483.00V471.08 M876.46 478.20V466.28 M884.62 473.22V461.30 M892.81 468.05V456.13 M901.03 462.75V450.83 M909.30 457.50V445.57 M917.61 452.45V440.53 M925.95 447.82V435.89 M934.34 443.77V431.85 M942.76 440.52V428.60 M951.22 438.26V426.33 M959.72 437.19V425.27 M968.26 437.53V425.61 M976.84 439.50V427.58" fill="none" stroke="#FF0000" stroke-width="3.0"/>
<path d="M131.41 159.01 L133.54 169.77 L135.67 180.36 L137.80 190.78 L139.93 201.05 L142.06 211.14 L144.19 221.08 L146.32 230.86 L148.45 240.47 L150.58 249.93 L152.71 259.24 L154.84 268.39 L156.97 277.38 L159.10 286.23 L161.23 294.92 L163.36 303.47 L165.49 311.87 L167.62 320.12 L169.75 328.23 L171.88 336.19 L174.02 344.02 L176.15 351.70 L178.28 359.25 L180.41 366.65 L182.54 373.92 L184.67 381.06 L186.80 388.06 L188.93 394.93 L191.06 401.67 L193.19 408.29 L195.32 414.77 L197.45 421.13 L199.58 427.37 L201.71 433.48 L203.84 439.47 L205.97 445.33 L208.10 451.08 L210.23 456.72 L212.36 462.23 L214.49 467.64 L216.62 472.92 L218.75 478.10 L220.88 483.17 L223.01 488.12 L225.14 492.97 L227.28 497.72 L229.41 502.36 L231.54 506.89 L233.67 511.33 L235.80 515.66 L237.93 519.90 L240.06 524.03 L242.19 528.07 L244.32 532.02 L246.45 535.87 L248.58 539.63 L250.71 543.30 L252.84 546.89 L254.97 550.38 L257.10 553.79 L259.23 557.11 L261.36 560.35 L263.49 563.51 L265.62 566.58 L267.75 569.58 L269.88 572.50 L272.01 575.35 L274.14 578.12 L276.27 580.81 L278.41 583.44 L280.54 585.99 L282.67 588.47 L284.80 590.89 L286.93 593.24 L289.06 595.53 L291.19 597.75 L293.32 599.91 L295.45 602.01 L297.58 604.05 L299.71 606.03 L301.84 607.96 L303.97 609.83 L306.10 611.65 L308.23 613.41 L310.36 615.13 L312.49 616.79 L314.62 618.41 L316.75 619.99 L318.88 621.51 L321.01 622.99 L323.14 624.43 L325.27 625.83 L327.40 627.18 L329.53 628.49 L331.67 629.76 L333.80 630.98 L335.93 632.17 L338.06 633.32 L340.19 634.42 L342.32 635.49 L344.45 636.52 L346.58 637.51 L348.71 638.46 L350.84 639.37 L352.97 640.25 L355.10 641.10 L357.23 641.90 L359.36 642.67 L361.49 643.41 L363.62 644.12 L365.75 644.79 L367.88 645.42 L370.01 646.03 L372.14 646.60 L374.27 647.15 L376.40 647.66 L378.53 648.14 L380.66 648.59 L382.80 649.01 L384.93 649.41 L387.06 649.77 L389.19 650.11 L391.32 650.42 L393.45 650.71 L395.58 650.97 L397.71 651.20 L399.84 651.41 L401.97 651.59 L404.10 651.75 L406.23 651.89 L408.36 652.00 L410.49 652.09 L412.62 652.16 L414.75 652.21 L416.88 652.24 L419.01 652.25 L421.14 652.23 L423.27 652.20 L425.40 652.14 L427.53 652.07 L429.66 651.98 L431.79 651.86 L433.92 651.73 L436.06 651.58 L438.19 651.41 L440.32 651.22 L442.45 651.01 L444.58 650.79 L446.71 650.55 L448.84 650.29 L450.97 650.01 L453.10 649.72 L455.23 649.41 L457.36 649.08 L459.49 648.74 L461.62 648.38 L463.75 648.00 L465.88 647.62 L468.01 647.21 L470.14 646.79 L472.27 646.36 L474.40 645.92 L476.53 645.46 L478.66 644.99 L480.79 644.51 L482.92 644.01 L485.05 643.51 L487.19 642.99 L489.32 642.47 L491.45 641.93 L493.58 641.38 L495.71 640.83 L497.84 640.26 L499.97 639.69 L502.10 639.10 L504.23 638.51 L506.36 637.90 L508.49 637.28 L510.62 636.66 L512.75 636.02 L514.88 635.37 L517.01 634.71 L519.14 634.04 L521.27 633.35 L523.40 632.66 L525.53 631.95 L527.66 631.24 L529.79 630.51 L531.92 629.76 L534.05 629.01 L536.18 628.25 L538.31 627.47 L540.45 626.69 L542.58 625.90 L544.71 625.10 L546.84 624.29 L548.97 623.48 L551.10 622.66 L553.23 621.83 L555.36 620.99 L557.49 620.15 L559.62 619.31 L561.75 618.46 L563.88 617.60 L566.01 616.74 L568.14 615.87 L570.27 615.00 L572.40 614.11 L574.53 613.23 L576.66 612.34 L578.79 611.44 L580.92 610.54 L583.05 609.63 L585.18 608.71 L587.31 607.79 L589.44 606.86 L591.57 605.93 L593.71 604.99 L595.84 604.05 L597.97 603.10 L600.10 602.15 L602.23 601.19 L604.36 600.23 L606.49 599.26 L608.62 598.30 L610.75 597.33 L612.88 596.36 L615.01 595.38 L617.14 594.41 L619.27 593.43 L621.40 592.45 L623.53 591.47 L625.66 590.48 L627.79 589.50 L629.92 588.51 L632.05 587.52 L634.18 586.53 L636.31 585.54 L638.44 584.54 L640.57 583.55 L642.70 582.55 L644.84 581.55 L646.97 580.55 L649.10 579.55 L651.23 578.54 L653.36 577.54 L655.49 576.53 L657.62 575.53 L659.75 574.52 L661.88 573.51 L664.01 572.49 L666.14 571.48 L668.27 570.47 L670.40 569.45 L672.53 568.43 L674.66 567.41 L676.79 566.40 L678.92 565.38 L681.05 564.35 L683.18 563.33 L685.31 562.31 L687.44 561.28 L689.57 560.26 L691.70 559.23 L693.83 558.20 L695.96 557.18 L698.10 556.15 L700.23 555.12 L702.36 554.09 L704.49 553.06 L706.62 552.02 L708.75 550.99 L710.88 549.96 L713.01 548.92 L715.14 547.89 L717.27 546.85 L719.40 545.82 L721.53 544.78 L723.66 543.74 L725.79 542.71 L727.92 541.67 L730.05 540.63 L732.18 539.59 L734.31 538.55 L736.44 537.52 L738.57 536.48 L740.70 535.44 L742.83 534.40 L744.96 533.36 L747.09 532.32 L749.23 531.28 L751.36 530.24 L753.49 529.20 L755.62 528.15 L757.75 527.11 L759.88 526.07 L762.01 525.03 L764.14 523.99 L766.27 522.95 L768.40 521.91 L770.53 520.87 L772.66 519.83 L774.79 518.79 L776.92 517.76 L779.05 516.72 L781.18 515.68 L783.31 514.64 L785.44 513.60 L787.57 512.56 L789.70 511.53 L791.83 510.49 L793.96 509.46 L796.09 508.42 L798.22 507.38 L800.35 506.35 L802.49 505.32 L804.62 504.28 L806.75 503.25 L808.88 502.22 L811.01 501.19 L813.14 500.16 L815.27 499.13 L817.40 498.10 L819.53 497.07 L821.66 496.05 L823.79 495.02 L825.92 494.00 L828.05 492.97 L830.18 491.95 L832.31 490.93 L834.44 489.91 L836.57 488.89 L838.70 487.87 L840.83 486.85 L842.96 485.83 L845.09 484.82 L847.22 483.81 L849.35 482.79 L851.48 481.78 L853.62 480.77 L855.75 479.76 L857.88 478.76 L860.01 477.75 L862.14 476.75 L864.27 475.75 L866.40 474.74 L868.53 473.74 L870.66 472.75 L872.79 471.75 L874.92 470.76 L877.05 469.76 L879.18 468.77 L881.31 467.78 L883.44 466.79 L885.57 465.81 L887.70 464.82 L889.83 463.84 L891.96 462.86 L894.09 461.88 L896.22 460.90 L898.35 459.93 L900.48 458.96 L902.61 457.99 L904.74 457.02 L906.88 456.05 L909.01 455.09 L911.14 454.12 L913.27 453.16 L915.40 452.21 L917.53 451.25 L919.66 450.30 L921.79 449.34 L923.92 448.40 L926.05 447.45 L928.18 446.51 L930.31 445.56 L932.44 444.62 L934.57 443.69 L936.70 442.75 L938.83 441.82 L940.96 440.89 L943.09 439.97 L945.22 439.04 L947.35 438.12 L949.48 437.20 L951.61 436.29 L953.74 435.37 L955.87 434.46 L958.01 433.55 L960.14 432.65 L962.27 431.75 L964.40 430.85 L966.53 429.95 L968.66 429.06 L970.79 428.17 L972.92 427.28 L975.05 426.40 L977.18 425.52 L979.31 424.64 L981.44 423.76" fill="none" stroke="#FF00FF" stroke-width="3.4" stroke-linejoin="round"/><path d="M132.68 165.97V164.90 M136.97 187.30V186.23 M141.30 208.09V207.02 M145.66 228.36V227.29 M150.04 248.09V247.02 M154.46 267.30V266.22 M158.91 285.96V284.89 M163.39 304.10V303.02 M167.90 321.70V320.62 M172.44 338.77V337.69 M177.01 355.30V354.23 M181.61 371.31V370.23 M186.24 386.78V385.71 M190.91 401.73V400.66 M195.60 416.16V415.08 M200.33 430.06V428.99 M205.09 443.45V442.38 M209.88 456.32V455.25 M214.70 468.69V467.62 M219.55 480.55V479.48 M224.44 491.92V490.84 M229.36 502.79V501.72 M234.31 513.18V512.10 M239.29 523.09V522.02 M244.30 532.53V531.46 M249.35 541.51V540.44 M254.43 550.04V548.97 M259.54 558.13V557.05 M264.69 565.78V564.71 M269.87 573.02V571.95 M275.08 579.85V578.77 M280.32 586.28V585.20 M285.60 592.32V591.25 M290.91 598.00V596.93 M296.26 603.33V602.25 M301.64 608.31V607.24 M307.05 612.98V611.90 M312.49 617.33V616.26 M317.97 621.40V620.33 M323.49 625.20V624.12 M329.03 628.72V627.65 M334.62 631.98V630.91 M340.23 634.98V633.91 M345.88 637.72V636.65 M351.57 640.21V639.14 M357.29 642.46V641.39 M363.04 644.46V643.39 M368.83 646.23V645.16 M374.65 647.78V646.70 M380.51 649.10V648.02 M386.41 650.20V649.13 M392.33 651.10V650.02 M398.30 651.80V650.72 M404.30 652.31V651.22 M410.33 652.63V651.54 M416.41 652.78V651.69 M422.51 652.76V651.66 M428.66 652.57V651.47 M434.83 652.22V651.11 M441.05 651.71V650.60 M447.30 651.03V649.92 M453.59 650.21V649.09 M459.91 649.23V648.11 M466.27 648.11V646.98 M472.67 646.85V645.71 M479.10 645.46V644.32 M485.57 643.96V642.81 M492.08 642.34V641.19 M498.62 640.63V639.48 M505.20 638.81V637.65 M511.82 636.88V635.72 M518.48 634.83V633.66 M525.17 632.66V631.49 M531.90 630.36V629.18 M538.67 627.94V626.75 M545.48 625.40V624.22 M552.32 622.78V621.59 M559.20 620.08V618.87 M566.12 617.31V616.08 M573.08 614.46V613.20 M580.08 611.54V610.25 M587.11 608.53V607.22 M594.18 605.45V604.11 M601.30 602.29V600.93 M608.45 599.07V597.68 M615.64 595.80V594.39 M622.86 592.49V591.05 M630.13 589.14V587.68 M637.44 585.76V584.27 M644.78 582.36V580.79 M652.17 578.92V577.28 M659.59 575.45V573.73 M667.06 571.94V570.15 M674.56 568.39V566.53 M682.10 564.82V562.88 M689.69 561.21V559.20 M697.31 557.57V555.49 M704.97 553.90V551.74 M712.67 550.20V547.97 M720.42 546.48V544.17 M728.20 542.73V540.34 M736.03 538.95V536.49 M743.89 535.15V532.61 M751.80 531.33V528.71 M759.74 527.49V524.79 M767.73 523.63V520.85 M775.76 519.75V516.89 M783.83 515.86V512.92 M791.94 511.95V508.93 M800.09 508.03V504.93 M808.28 504.10V500.92 M816.52 500.16V496.89 M824.79 496.21V492.86 M833.11 492.26V488.83 M841.47 488.30V484.79 M849.88 484.34V480.75 M858.32 480.39V476.71 M866.81 476.43V472.67 M875.33 472.48V468.64 M883.90 468.54V464.61 M892.52 464.61V460.60 M901.17 460.69V456.59 M909.87 456.79V452.60 M918.61 452.90V448.63 M927.40 449.03V444.67 M936.23 445.18V440.74 M945.10 441.36V436.83 M954.01 437.57V432.95 M962.97 433.81V429.10 M971.97 430.06V425.29" fill="none" stroke="#FF00FF" stroke-width="3.0"/>
<path d="M131.41 167.21 L133.54 178.12 L135.67 188.86 L137.80 199.43 L139.93 209.82 L142.06 220.05 L144.19 230.11 L146.32 240.00 L148.45 249.72 L150.58 259.29 L152.71 268.69 L154.84 277.93 L156.97 287.02 L159.10 295.95 L161.23 304.72 L163.36 313.34 L165.49 321.81 L167.62 330.12 L169.75 338.29 L171.88 346.31 L174.02 354.19 L176.15 361.92 L178.28 369.51 L180.41 376.96 L182.54 384.27 L184.67 391.45 L186.80 398.48 L188.93 405.39 L191.06 412.16 L193.19 418.80 L195.32 425.31 L197.45 431.69 L199.58 437.94 L201.71 444.08 L203.84 450.08 L205.97 455.97 L208.10 461.74 L210.23 467.38 L212.36 472.92 L214.49 478.33 L216.62 483.63 L218.75 488.82 L220.88 493.91 L223.01 498.88 L225.14 503.74 L227.28 508.50 L229.41 513.15 L231.54 517.71 L233.67 522.16 L235.80 526.51 L237.93 530.77 L240.06 534.93 L242.19 538.99 L244.32 542.96 L246.45 546.84 L248.58 550.63 L250.71 554.34 L252.84 557.95 L254.97 561.48 L257.10 564.93 L259.23 568.30 L261.36 571.59 L263.49 574.79 L265.62 577.93 L267.75 580.98 L269.88 583.97 L272.01 586.88 L274.14 589.72 L276.27 592.48 L278.41 595.18 L280.54 597.81 L282.67 600.37 L284.80 602.86 L286.93 605.28 L289.06 607.63 L291.19 609.91 L293.32 612.12 L295.45 614.26 L297.58 616.34 L299.71 618.34 L301.84 620.27 L303.97 622.14 L306.10 623.95 L308.23 625.69 L310.36 627.37 L312.49 628.99 L314.62 630.56 L316.75 632.07 L318.88 633.54 L321.01 634.96 L323.14 636.34 L325.27 637.69 L327.40 638.99 L329.53 640.26 L331.67 641.49 L333.80 642.69 L335.93 643.85 L338.06 644.97 L340.19 646.05 L342.32 647.10 L344.45 648.11 L346.58 649.08 L348.71 650.02 L350.84 650.91 L352.97 651.77 L355.10 652.59 L357.23 653.37 L359.36 654.12 L361.49 654.82 L363.62 655.49 L365.75 656.12 L367.88 656.70 L370.01 657.26 L372.14 657.77 L374.27 658.24 L376.40 658.69 L378.53 659.09 L380.66 659.47 L382.80 659.81 L384.93 660.12 L387.06 660.41 L389.19 660.66 L391.32 660.89 L393.45 661.09 L395.58 661.26 L397.71 661.41 L399.84 661.54 L401.97 661.65 L404.10 661.73 L406.23 661.80 L408.36 661.85 L410.49 661.88 L412.62 661.89 L414.75 661.89 L416.88 661.87 L419.01 661.84 L421.14 661.79 L423.27 661.72 L425.40 661.63 L427.53 661.51 L429.66 661.38 L431.79 661.22 L433.92 661.03 L436.06 660.82 L438.19 660.58 L440.32 660.31 L442.45 660.01 L444.58 659.68 L446.71 659.33 L448.84 658.95 L450.97 658.56 L453.10 658.14 L455.23 657.71 L457.36 657.26 L459.49 656.80 L461.62 656.32 L463.75 655.84 L465.88 655.34 L468.01 654.84 L470.14 654.33 L472.27 653.80 L474.40 653.27 L476.53 652.73 L478.66 652.18 L480.79 651.62 L482.92 651.05 L485.05 650.46 L487.19 649.87 L489.32 649.26 L491.45 648.65 L493.58 648.02 L495.71 647.38 L497.84 646.73 L499.97 646.06 L502.10 645.38 L504.23 644.69 L506.36 643.99 L508.49 643.27 L510.62 642.54 L512.75 641.80 L514.88 641.04 L517.01 640.27 L519.14 639.48 L521.27 638.68 L523.40 637.86 L525.53 637.04 L527.66 636.21 L529.79 635.36 L531.92 634.52 L534.05 633.66 L536.18 632.80 L538.31 631.93 L540.45 631.06 L542.58 630.19 L544.71 629.32 L546.84 628.45 L548.97 627.58 L551.10 626.72 L553.23 625.86 L555.36 624.99 L557.49 624.13 L559.62 623.27 L561.75 622.41 L563.88 621.55 L566.01 620.68 L568.14 619.80 L570.27 618.92 L572.40 618.03 L574.53 617.13 L576.66 616.23 L578.79 615.31 L580.92 614.38 L583.05 613.44 L585.18 612.48 L587.31 611.51 L589.44 610.52 L591.57 609.52 L593.71 608.50 L595.84 607.48 L597.97 606.44 L600.10 605.40 L602.23 604.34 L604.36 603.28 L606.49 602.21 L608.62 601.13 L610.75 600.04 L612.88 598.95 L615.01 597.85 L617.14 596.74 L619.27 595.62 L621.40 594.50 L623.53 593.37 L625.66 592.23 L627.79 591.09 L629.92 589.94 L632.05 588.79 L634.18 587.63 L636.31 586.46 L638.44 585.29 L640.57 584.12 L642.70 582.94 L644.84 581.76 L646.97 580.57 L649.10 579.38 L651.23 578.18 L653.36 576.98 L655.49 575.78 L657.62 574.57 L659.75 573.36 L661.88 572.15 L664.01 570.93 L666.14 569.72 L668.27 568.49 L670.40 567.27 L672.53 566.04 L674.66 564.82 L676.79 563.59 L678.92 562.36 L681.05 561.12 L683.18 559.89 L685.31 558.65 L687.44 557.42 L689.57 556.18 L691.70 554.94 L693.83 553.71 L695.96 552.47 L698.10 551.23 L700.23 549.99 L702.36 548.75 L704.49 547.52 L706.62 546.28 L708.75 545.05 L710.88 543.81 L713.01 542.58 L715.14 541.35 L717.27 540.12 L719.40 538.89 L721.53 537.66 L723.66 536.44 L725.79 535.21 L727.92 533.99 L730.05 532.78 L732.18 531.56 L734.31 530.35 L736.44 529.14 L738.57 527.94 L740.70 526.74 L742.83 525.54 L744.96 524.35 L747.09 523.16 L749.23 521.97 L751.36 520.79 L753.49 519.62 L755.62 518.45 L757.75 517.28 L759.88 516.12 L762.01 514.96 L764.14 513.81 L766.27 512.67 L768.40 511.53 L770.53 510.40 L772.66 509.27 L774.79 508.15 L776.92 507.04 L779.05 505.93 L781.18 504.83 L783.31 503.74 L785.44 502.65 L787.57 501.58 L789.70 500.51 L791.83 499.44 L793.96 498.39 L796.09 497.35 L798.22 496.31 L800.35 495.28 L802.49 494.26 L804.62 493.25 L806.75 492.25 L808.88 491.25 L811.01 490.27 L813.14 489.30 L815.27 488.33 L817.40 487.38 L819.53 486.44 L821.66 485.50 L823.79 484.58 L825.92 483.67 L828.05 482.77 L830.18 481.88 L832.31 481.00 L834.44 480.13 L836.57 479.28 L838.70 478.43 L840.83 477.60 L842.96 476.78 L845.09 475.97 L847.22 475.18 L849.35 474.40 L851.48 473.63 L853.62 472.87 L855.75 472.12 L857.88 471.39 L860.01 470.67 L862.14 469.95 L864.27 469.24 L866.40 468.54 L868.53 467.85 L870.66 467.16 L872.79 466.47 L874.92 465.79 L877.05 465.12 L879.18 464.44 L881.31 463.77 L883.44 463.10 L885.57 462.42 L887.70 461.75 L889.83 461.07 L891.96 460.39 L894.09 459.71 L896.22 459.02 L898.35 458.33 L900.48 457.63 L902.61 456.93 L904.74 456.21 L906.88 455.49 L909.01 454.76 L911.14 454.02 L913.27 453.26 L915.40 452.50 L917.53 451.72 L919.66 450.92 L921.79 450.12 L923.92 449.29 L926.05 448.45 L928.18 447.60 L930.31 446.72 L932.44 445.83 L934.57 444.92 L936.70 443.98 L938.83 443.03 L940.96 442.05 L943.09 441.05 L945.22 440.02 L947.35 438.97 L949.48 437.90 L951.61 436.80 L953.74 435.67 L955.87 434.51 L958.01 433.33 L960.14 432.11 L962.27 430.86 L964.40 429.58 L966.53 428.27 L968.66 426.93 L970.79 425.55 L972.92 424.14 L975.05 422.69 L977.18 421.21 L979.31 419.68 L981.44 418.12" fill="none" stroke="#008000" stroke-width="3.4" stroke-linejoin="round"/><path d="M131.42 167.88V166.69 M135.71 189.66V188.47 M140.03 210.89V209.70 M144.37 231.57V230.37 M148.75 251.68V250.50 M153.16 271.25V270.06 M157.60 290.26V289.07 M162.07 308.71V307.53 M166.57 326.62V325.43 M171.10 343.97V342.79 M175.66 360.77V359.59 M180.25 377.03V375.85 M184.88 392.74V391.57 M189.53 407.91V406.74 M194.22 422.55V421.38 M198.94 436.66V435.49 M203.69 450.24V449.07 M208.47 463.30V462.14 M213.28 475.85V474.68 M218.13 487.89V486.73 M223.00 499.43V498.27 M227.91 510.48V509.32 M232.85 521.05V519.89 M237.83 531.14V529.99 M242.83 540.77V539.62 M247.87 549.95V548.80 M252.94 558.69V557.54 M258.04 567.00V565.86 M263.18 574.90V573.75 M268.35 582.39V581.25 M273.55 589.50V588.36 M278.78 596.22V595.09 M284.05 602.57V601.43 M289.35 608.52V607.39 M294.69 614.07V612.94 M300.06 619.22V618.09 M305.46 623.97V622.85 M310.89 628.34V627.22 M316.36 632.36V631.24 M321.87 636.08V634.96 M327.40 639.55V638.43 M332.97 642.79V641.68 M338.58 645.79V644.68 M344.22 648.56V647.45 M349.90 651.07V649.97 M355.60 653.33V652.23 M361.35 655.33V654.23 M367.13 657.05V655.95 M372.94 658.50V657.40 M378.79 659.69V658.59 M384.67 660.63V659.54 M390.59 661.36V660.27 M396.55 661.88V660.79 M402.54 662.21V661.13 M408.56 662.39V661.31 M414.62 662.43V661.35 M420.72 662.34V661.26 M426.85 662.09V661.01 M433.02 661.65V660.57 M439.22 661.00V659.90 M445.46 660.10V658.98 M451.74 658.98V657.84 M458.05 657.69V656.53 M464.40 656.27V655.10 M470.79 654.76V653.57 M477.21 653.19V651.93 M483.67 651.51V650.17 M490.16 649.73V648.31 M496.70 647.83V646.33 M503.27 645.85V644.16 M509.88 643.74V641.86 M516.52 641.63V639.26 M523.20 639.47V636.41 M529.92 637.28V633.34 M536.68 635.22V629.98 M543.47 632.74V626.91 M550.31 630.20V623.88 M557.18 627.60V620.92 M564.09 624.97V617.95 M571.03 622.29V614.91 M578.02 619.37V611.92 M585.04 616.87V608.22 M592.10 613.82V604.72 M599.21 610.70V600.98 M606.34 607.27V597.29 M613.52 603.74V593.49 M620.74 600.91V588.78 M627.99 597.64V584.31 M635.29 594.73V579.32 M642.62 590.74V575.24 M650.00 586.62V571.12 M657.41 582.44V566.94 M664.86 578.20V562.70 M672.35 573.90V558.40 M679.89 569.53V554.06 M687.46 565.04V549.79 M695.07 560.51V545.47 M702.72 555.95V541.14 M710.41 551.38V536.79 M718.14 546.80V532.43 M725.91 542.22V528.07 M733.73 537.64V523.72 M741.58 533.09V519.40 M749.47 528.57V515.10 M757.41 524.08V510.84 M765.38 519.69V506.60 M773.40 515.41V502.36 M781.46 511.19V498.19 M789.56 507.06V494.10 M797.69 503.02V490.11 M805.88 499.09V486.22 M814.10 495.27V482.45 M822.36 491.58V478.81 M830.67 488.03V475.31 M839.02 484.64V471.97 M847.41 481.42V468.80 M855.84 478.38V465.81 M864.31 475.49V462.96 M872.83 472.70V460.22 M881.39 469.96V457.53 M889.99 467.21V454.84 M898.63 464.41V452.08 M907.32 461.48V449.20 M916.05 458.37V446.15 M924.82 455.03V442.85 M933.63 451.38V439.26 M942.49 447.37V435.30 M951.39 442.93V430.90 M960.33 437.98V426.01 M969.32 432.47V420.54" fill="none" stroke="#008000" stroke-width="3.0"/>
</g>
<g clip-path="url(#cb)">
<g fill="none" stroke="#FFA500" stroke-width="3"></g>
<g fill="none" stroke="#0000FF" stroke-width="3"><circle cx="381.58" cy="117.88" r="14.75"/><circle cx="469.70" cy="370.47" r="14.75"/><circle cx="561.35" cy="541.79" r="14.75"/><circle cx="656.60" cy="644.74" r="14.75"/><circle cx="755.50" cy="689.92" r="14.75"/><circle cx="858.14" cy="685.78" r="14.75"/><circle cx="964.58" cy="638.89" r="14.75"/></g>
<g fill="none" stroke="#FF0000" stroke-width="3"><circle cx="185.77" cy="740.00" r="14.75"/><circle cx="249.01" cy="931.65" r="14.75"/><circle cx="314.36" cy="1064.93" r="14.75"/><circle cx="381.85" cy="1149.42" r="14.75"/><circle cx="451.52" cy="1192.54" r="14.75"/><circle cx="523.40" cy="1200.28" r="14.75"/><circle cx="597.52" cy="1177.72" r="14.75"/><circle cx="673.92" cy="1129.37" r="14.75"/><circle cx="752.64" cy="1059.30" r="14.75"/><circle cx="833.71" cy="971.26" r="14.75"/><circle cx="917.17" cy="868.77" r="14.75"/><circle cx="1003.04" cy="755.09" r="14.75"/></g>
<g fill="none" stroke="#FF00FF" stroke-width="3"><circle cx="93.00" cy="507.45" r="14.75"/><circle cx="119.98" cy="650.17" r="14.75"/><circle cx="147.37" cy="776.88" r="14.75"/><circle cx="175.19" cy="888.52" r="14.75"/><circle cx="203.43" cy="986.02" r="14.75"/><circle cx="232.10" cy="1070.22" r="14.75"/><circle cx="261.20" cy="1141.93" r="14.75"/><circle cx="290.74" cy="1201.94" r="14.75"/><circle cx="320.71" cy="1250.97" r="14.75"/><circle cx="351.12" cy="1289.72" r="14.75"/><circle cx="381.98" cy="1318.85" r="14.75"/><circle cx="413.28" cy="1339.00" r="14.75"/><circle cx="445.04" cy="1350.76" r="14.75"/><circle cx="477.25" cy="1354.72" r="14.75"/><circle cx="509.91" cy="1351.42" r="14.75"/><circle cx="543.04" cy="1341.39" r="14.75"/><circle cx="576.63" cy="1325.12" r="14.75"/><circle cx="610.68" cy="1303.09" r="14.75"/><circle cx="645.21" cy="1275.75" r="14.75"/><circle cx="680.20" cy="1243.54" r="14.75"/><circle cx="715.68" cy="1206.87" r="14.75"/><circle cx="751.63" cy="1166.12" r="14.75"/><circle cx="788.07" cy="1121.66" r="14.75"/><circle cx="824.99" cy="1073.85" r="14.75"/><circle cx="862.40" cy="1023.03" r="14.75"/><circle cx="900.30" cy="969.50" r="14.75"/><circle cx="977.60" cy="855.53" r="14.75"/><circle cx="1016.99" cy="795.64" r="14.75"/></g>
<g fill="none" stroke="#008000" stroke-width="3"><circle cx="108.67" cy="685.19" r="14.75"/><circle cx="156.62" cy="906.87" r="14.75"/><circle cx="205.86" cy="1082.77" r="14.75"/><circle cx="256.42" cy="1217.32" r="14.75"/><circle cx="308.30" cy="1314.67" r="14.75"/><circle cx="361.53" cy="1378.73" r="14.75"/><circle cx="416.13" cy="1413.17" r="14.75"/><circle cx="472.11" cy="1421.45" r="14.75"/><circle cx="529.49" cy="1406.79" r="14.75"/><circle cx="588.29" cy="1372.22" r="14.75"/><circle cx="648.52" cy="1320.55" r="14.75"/><circle cx="710.20" cy="1254.39" r="14.75"/><circle cx="773.35" cy="1176.15" r="14.75"/><circle cx="837.99" cy="1088.05" r="14.75"/><circle cx="904.13" cy="992.12" r="14.75"/><circle cx="971.79" cy="890.22" r="14.75"/></g>
<path d="M342.42 -200.00 L344.06 -200.00 L345.70 -200.00 L347.34 -200.00 L348.98 -200.00 L350.62 -200.00 L352.26 -200.00 L353.90 -200.00 L355.54 -200.00 L357.17 -200.00 L358.81 -200.00 L360.45 -200.00 L362.09 -200.00 L363.73 -200.00 L365.37 -200.00 L367.01 -200.00 L368.65 -200.00 L370.29 -200.00 L371.93 -200.00 L373.57 -200.00 L375.21 -200.00 L376.85 -200.00 L378.49 -200.00 L380.13 -200.00 L381.77 -200.00 L383.41 -200.00 L385.05 -200.00 L386.69 -200.00 L388.33 -200.00 L389.97 -200.00 L391.61 -200.00 L393.25 -200.00 L394.89 -200.00 L396.53 -200.00 L398.17 -200.00 L399.81 -200.00 L401.45 -200.00 L403.09 -200.00 L404.72 -200.00 L406.36 -200.00 L408.00 -200.00 L409.64 -200.00 L411.28 -200.00 L412.92 -200.00 L414.56 -200.00 L416.20 -200.00 L417.84 -200.00 L419.48 -200.00 L421.12 -200.00 L422.76 -200.00 L424.40 -200.00 L426.04 -200.00 L427.68 -200.00 L429.32 -200.00 L430.96 -200.00 L432.60 -200.00 L434.24 -200.00 L435.88 -200.00 L437.52 -200.00 L439.16 -200.00 L440.80 -200.00 L442.44 -200.00 L444.08 -200.00 L445.72 -200.00 L447.36 -200.00 L449.00 -200.00 L450.64 -200.00 L452.28 -200.00 L453.91 -200.00 L455.55 -200.00 L457.19 -200.00 L458.83 -200.00 L460.47 -200.00 L462.11 -200.00 L463.75 -200.00 L465.39 -200.00 L467.03 -200.00 L468.67 -200.00 L470.31 -200.00 L471.95 -200.00 L473.59 -200.00 L475.23 -200.00 L476.87 -200.00 L478.51 -200.00 L480.15 -200.00 L481.79 -200.00 L483.43 -200.00 L485.07 -200.00 L486.71 -200.00 L488.35 -200.00 L489.99 -200.00 L491.63 -200.00 L493.27 -200.00 L494.91 -200.00 L496.55 -200.00 L498.19 -200.00 L499.83 -200.00 L501.47 -200.00 L503.10 -200.00 L504.74 -200.00 L506.38 -200.00 L508.02 -200.00 L509.66 -200.00 L511.30 -200.00 L512.94 -200.00 L514.58 -200.00 L516.22 -200.00 L517.86 -200.00 L519.50 -200.00 L521.14 -200.00 L522.78 -200.00 L524.42 -200.00 L526.06 -200.00 L527.70 -200.00 L529.34 -200.00 L530.98 -200.00 L532.62 -200.00 L534.26 -200.00 L535.90 -200.00 L537.54 -200.00 L539.18 -200.00 L540.82 -200.00 L542.46 -200.00 L544.10 -200.00 L545.74 -200.00 L547.38 -200.00 L549.02 -200.00 L550.65 -200.00 L552.29 -200.00 L553.93 -200.00 L555.57 -200.00 L557.21 -200.00 L558.85 -200.00 L560.49 -200.00 L562.13 -200.00 L563.77 -200.00 L565.41 -200.00 L567.05 -200.00 L568.69 -200.00 L570.33 -200.00 L571.97 -200.00 L573.61 -200.00 L575.25 -200.00 L576.89 -200.00 L578.53 -200.00 L580.17 -200.00 L581.81 -200.00 L583.45 -200.00 L585.09 -200.00 L586.73 -200.00 L588.37 -200.00 L590.01 -200.00 L591.65 -200.00 L593.29 -200.00 L594.93 -200.00 L596.57 -200.00 L598.21 -200.00 L599.84 -200.00 L601.48 -200.00 L603.12 -200.00 L604.76 -200.00 L606.40 -200.00 L608.04 -200.00 L609.68 -200.00 L611.32 -200.00 L612.96 -200.00 L614.60 -200.00 L616.24 -200.00 L617.88 -200.00 L619.52 -200.00 L621.16 -200.00 L622.80 -200.00 L624.44 -200.00 L626.08 -200.00 L627.72 -200.00 L629.36 -200.00 L631.00 -200.00 L632.64 -200.00 L634.28 -200.00 L635.92 -200.00 L637.56 -200.00 L639.20 -200.00 L640.84 -200.00 L642.48 -200.00 L644.12 -200.00 L645.76 -200.00 L647.40 -200.00 L649.03 -200.00 L650.67 -200.00 L652.31 -200.00 L653.95 -200.00 L655.59 -200.00 L657.23 -200.00 L658.87 -200.00 L660.51 -200.00 L662.15 -200.00 L663.79 -200.00 L665.43 -200.00 L667.07 -200.00 L668.71 -200.00 L670.35 -200.00 L671.99 -200.00 L673.63 -200.00 L675.27 -200.00 L676.91 -200.00 L678.55 -200.00 L680.19 -200.00 L681.83 -200.00 L683.47 -200.00 L685.11 -200.00 L686.75 -200.00 L688.39 -200.00 L690.03 -200.00 L691.67 -200.00 L693.31 -200.00 L694.95 -200.00 L696.58 -200.00 L698.22 -200.00 L699.86 -200.00 L701.50 -200.00 L703.14 -200.00 L704.78 -200.00 L706.42 -200.00 L708.06 -200.00 L709.70 -200.00 L711.34 -200.00 L712.98 -200.00 L714.62 -200.00 L716.26 -200.00 L717.90 -200.00 L719.54 -200.00 L721.18 -200.00 L722.82 -200.00 L724.46 -200.00 L726.10 -200.00 L727.74 -200.00 L729.38 -200.00 L731.02 -200.00 L732.66 -200.00 L734.30 -200.00 L735.94 -200.00 L737.58 -200.00 L739.22 -200.00 L740.86 -200.00 L742.50 -200.00 L744.14 -200.00 L745.77 -200.00 L747.41 -200.00 L749.05 -200.00 L750.69 -200.00 L752.33 -200.00 L753.97 -200.00 L755.61 -200.00 L757.25 -200.00 L758.89 -200.00 L760.53 -200.00 L762.17 -200.00 L763.81 -200.00 L765.45 -200.00 L767.09 -200.00 L768.73 -200.00 L770.37 -200.00 L772.01 -200.00 L773.65 -200.00 L775.29 -200.00 L776.93 -200.00 L778.57 -200.00 L780.21 -200.00 L781.85 -200.00 L783.49 -200.00 L785.13 -200.00 L786.77 -200.00 L788.41 -200.00 L790.05 -200.00 L791.69 -200.00 L793.33 -200.00 L794.96 -200.00 L796.60 -200.00 L798.24 -200.00 L799.88 -200.00 L801.52 -200.00 L803.16 -200.00 L804.80 -200.00 L806.44 -200.00 L808.08 -200.00 L809.72 -200.00 L811.36 -200.00 L813.00 -200.00 L814.64 -200.00 L816.28 -200.00 L817.92 -200.00 L819.56 -200.00 L821.20 -200.00 L822.84 -200.00 L824.48 -200.00 L826.12 -200.00 L827.76 -200.00 L829.40 -200.00 L831.04 -200.00 L832.68 -200.00 L834.32 -200.00 L835.96 -200.00 L837.60 -200.00 L839.24 -200.00 L840.88 -200.00 L842.52 -200.00 L844.15 -200.00 L845.79 -200.00 L847.43 -200.00 L849.07 -200.00 L850.71 -200.00 L852.35 -200.00 L853.99 -200.00 L855.63 -200.00 L857.27 -200.00 L858.91 -200.00 L860.55 -200.00 L862.19 -200.00 L863.83 -200.00 L865.47 -200.00 L867.11 -200.00 L868.75 -200.00 L870.39 -200.00 L872.03 -200.00 L873.67 -200.00 L875.31 -200.00 L876.95 -200.00 L878.59 -200.00 L880.23 -200.00 L881.87 -200.00 L883.51 -200.00 L885.15 -200.00 L886.79 -200.00 L888.43 -200.00 L890.07 -200.00 L891.70 -200.00 L893.34 -200.00 L894.98 -200.00 L896.62 -200.00 L898.26 -200.00 L899.90 -200.00 L901.54 -200.00 L903.18 -200.00 L904.82 -200.00 L906.46 -200.00 L908.10 -200.00 L909.74 -200.00 L911.38 -200.00 L913.02 -200.00 L914.66 -200.00 L916.30 -200.00 L917.94 -200.00 L919.58 -200.00 L921.22 -200.00 L922.86 -200.00 L924.50 -200.00 L926.14 -200.00 L927.78 -200.00 L929.42 -200.00 L931.06 -200.00 L932.70 -200.00 L934.34 -200.00 L935.98 -200.00 L937.62 -200.00 L939.26 -200.00 L940.89 -200.00 L942.53 -200.00 L944.17 -200.00 L945.81 -200.00 L947.45 -200.00 L949.09 -200.00 L950.73 -200.00 L952.37 -200.00 L954.01 -200.00 L955.65 -200.00 L957.29 -200.00 L958.93 -200.00 L960.57 -200.00 L962.21 -200.00 L963.85 -200.00 L965.49 -200.00 L967.13 -200.00 L968.77 -200.00 L970.41 -200.00 L972.05 -200.00 L973.69 -200.00 L975.33 -200.00 L976.97 -200.00 L978.61 -200.00 L980.25 -200.00 L981.89 -200.00 L983.53 -200.00 L985.17 -200.00 L986.81 -200.00 L988.45 -200.00 L990.08 -200.00 L991.72 -200.00 L993.36 -200.00 L995.00 -200.00 L996.64 -200.00" fill="none" stroke="#FFA500" stroke-width="3.4" stroke-linejoin="round"/><path d="" fill="none" stroke="#FFA500" stroke-width="3.0"/>
<path d="M112.06 -200.00 L114.27 -200.00 L116.49 -200.00 L118.71 -200.00 L120.92 -200.00 L123.14 -200.00 L125.36 -200.00 L127.58 -200.00 L129.79 -200.00 L132.01 -200.00 L134.23 -200.00 L136.44 -200.00 L138.66 -200.00 L140.88 -200.00 L143.09 -200.00 L145.31 -200.00 L147.53 -200.00 L149.75 -200.00 L151.96 -200.00 L154.18 -200.00 L156.40 -200.00 L158.61 -200.00 L160.83 -200.00 L163.05 -200.00 L165.26 -200.00 L167.48 -200.00 L169.70 -200.00 L171.92 -200.00 L174.13 -200.00 L176.35 -200.00 L178.57 -200.00 L180.78 -200.00 L183.00 -200.00 L185.22 -200.00 L187.43 -200.00 L189.65 -200.00 L191.87 -200.00 L194.09 -200.00 L196.30 -200.00 L198.52 -200.00 L200.74 -200.00 L202.95 -200.00 L205.17 -200.00 L207.39 -200.00 L209.61 -200.00 L211.82 -200.00 L214.04 -200.00 L216.26 -200.00 L218.47 -200.00 L220.69 -200.00 L222.91 -200.00 L225.12 -200.00 L227.34 -200.00 L229.56 -200.00 L231.78 -200.00 L233.99 -200.00 L236.21 -200.00 L238.43 -200.00 L240.64 -200.00 L242.86 -200.00 L245.08 -200.00 L247.29 -200.00 L249.51 -200.00 L251.73 -200.00 L253.95 -200.00 L256.16 -200.00 L258.38 -200.00 L260.60 -200.00 L262.81 -200.00 L265.03 -200.00 L267.25 -200.00 L269.46 -200.00 L271.68 -200.00 L273.90 -200.00 L276.12 -200.00 L278.33 -200.00 L280.55 -200.00 L282.77 -200.00 L284.98 -200.00 L287.20 -200.00 L289.42 -200.00 L291.63 -200.00 L293.85 -200.00 L296.07 -200.00 L298.29 -200.00 L300.50 -200.00 L302.72 -200.00 L304.94 -200.00 L307.15 -200.00 L309.37 -200.00 L311.59 -200.00 L313.80 -197.15 L316.02 -187.21 L318.24 -177.34 L320.46 -167.57 L322.67 -157.87 L324.89 -148.26 L327.11 -138.72 L329.32 -129.27 L331.54 -119.90 L333.76 -110.61 L335.97 -101.40 L338.19 -92.27 L340.41 -83.22 L342.63 -74.25 L344.84 -65.35 L347.06 -56.53 L349.28 -47.79 L351.49 -39.13 L353.71 -30.54 L355.93 -22.03 L358.14 -13.59 L360.36 -5.23 L362.58 3.06 L364.80 11.27 L367.01 19.41 L369.23 27.48 L371.45 35.48 L373.66 43.40 L375.88 51.25 L378.10 59.03 L380.31 66.73 L382.53 74.37 L384.75 81.94 L386.97 89.44 L389.18 96.86 L391.40 104.22 L393.62 111.51 L395.83 118.73 L398.05 125.88 L400.27 132.97 L402.48 139.99 L404.70 146.94 L406.92 153.82 L409.14 160.64 L411.35 167.39 L413.57 174.08 L415.79 180.70 L418.00 187.25 L420.22 193.75 L422.44 200.17 L424.65 206.54 L426.87 212.84 L429.09 219.07 L431.31 225.25 L433.52 231.36 L435.74 237.41 L437.96 243.40 L440.17 249.32 L442.39 255.19 L444.61 260.99 L446.83 266.74 L449.04 272.42 L451.26 278.04 L453.48 283.61 L455.69 289.11 L457.91 294.56 L460.13 299.94 L462.34 305.27 L464.56 310.54 L466.78 315.75 L469.00 320.91 L471.21 326.01 L473.43 331.05 L475.65 336.03 L477.86 340.96 L480.08 345.84 L482.30 350.65 L484.51 355.41 L486.73 360.12 L488.95 364.77 L491.17 369.37 L493.38 373.92 L495.60 378.41 L497.82 382.84 L500.03 387.23 L502.25 391.56 L504.47 395.83 L506.68 400.06 L508.90 404.23 L511.12 408.35 L513.34 412.42 L515.55 416.44 L517.77 420.41 L519.99 424.33 L522.20 428.20 L524.42 432.01 L526.64 435.78 L528.85 439.50 L531.07 443.17 L533.29 446.79 L535.51 450.36 L537.72 453.88 L539.94 457.36 L542.16 460.78 L544.37 464.16 L546.59 467.49 L548.81 470.78 L551.02 474.02 L553.24 477.21 L555.46 480.36 L557.68 483.46 L559.89 486.51 L562.11 489.52 L564.33 492.49 L566.54 495.41 L568.76 498.28 L570.98 501.11 L573.19 503.90 L575.41 506.64 L577.63 509.34 L579.85 512.00 L582.06 514.61 L584.28 517.18 L586.50 519.71 L588.71 522.20 L590.93 524.64 L593.15 527.05 L595.36 529.41 L597.58 531.73 L599.80 534.01 L602.02 536.25 L604.23 538.45 L606.45 540.61 L608.67 542.73 L610.88 544.81 L613.10 546.86 L615.32 548.86 L617.53 550.82 L619.75 552.75 L621.97 554.64 L624.19 556.49 L626.40 558.30 L628.62 560.07 L630.84 561.81 L633.05 563.51 L635.27 565.18 L637.49 566.81 L639.70 568.40 L641.92 569.95 L644.14 571.47 L646.36 572.96 L648.57 574.41 L650.79 575.83 L653.01 577.21 L655.22 578.55 L657.44 579.87 L659.66 581.15 L661.87 582.39 L664.09 583.60 L666.31 584.78 L668.53 585.93 L670.74 587.04 L672.96 588.12 L675.18 589.17 L677.39 590.19 L679.61 591.18 L681.83 592.13 L684.05 593.05 L686.26 593.95 L688.48 594.81 L690.70 595.64 L692.91 596.44 L695.13 597.21 L697.35 597.96 L699.56 598.67 L701.78 599.35 L704.00 600.01 L706.22 600.63 L708.43 601.23 L710.65 601.80 L712.87 602.34 L715.08 602.86 L717.30 603.34 L719.52 603.80 L721.73 604.23 L723.95 604.64 L726.17 605.02 L728.39 605.37 L730.60 605.70 L732.82 606.00 L735.04 606.27 L737.25 606.52 L739.47 606.75 L741.69 606.95 L743.90 607.12 L746.12 607.27 L748.34 607.40 L750.56 607.50 L752.77 607.58 L754.99 607.63 L757.21 607.67 L759.42 607.67 L761.64 607.66 L763.86 607.62 L766.07 607.56 L768.29 607.48 L770.51 607.38 L772.73 607.25 L774.94 607.10 L777.16 606.94 L779.38 606.75 L781.59 606.54 L783.81 606.30 L786.03 606.05 L788.24 605.78 L790.46 605.49 L792.68 605.18 L794.90 604.85 L797.11 604.49 L799.33 604.12 L801.55 603.74 L803.76 603.33 L805.98 602.90 L808.20 602.46 L810.41 601.99 L812.63 601.51 L814.85 601.02 L817.07 600.50 L819.28 599.97 L821.50 599.42 L823.72 598.85 L825.93 598.27 L828.15 597.67 L830.37 597.05 L832.58 596.42 L834.80 595.77 L837.02 595.11 L839.24 594.43 L841.45 593.73 L843.67 593.02 L845.89 592.30 L848.10 591.56 L850.32 590.80 L852.54 590.04 L854.75 589.25 L856.97 588.46 L859.19 587.65 L861.41 586.83 L863.62 585.99 L865.84 585.14 L868.06 584.28 L870.27 583.40 L872.49 582.51 L874.71 581.61 L876.92 580.70 L879.14 579.78 L881.36 578.84 L883.58 577.90 L885.79 576.94 L888.01 575.97 L890.23 574.99 L892.44 574.00 L894.66 572.99 L896.88 571.98 L899.09 570.96 L901.31 569.92 L903.53 568.88 L905.75 567.83 L907.96 566.77 L910.18 565.69 L912.40 564.61 L914.61 563.52 L916.83 562.42 L919.05 561.32 L921.27 560.20 L923.48 559.08 L925.70 557.95 L927.92 556.81 L930.13 555.66 L932.35 554.50 L934.57 553.34 L936.78 552.17 L939.00 550.99 L941.22 549.81 L943.44 548.62 L945.65 547.42 L947.87 546.21 L950.09 545.00 L952.30 543.79 L954.52 542.56 L956.74 541.34 L958.95 540.10 L961.17 538.86 L963.39 537.62 L965.61 536.37 L967.82 535.12 L970.04 533.86 L972.26 532.59 L974.47 531.32 L976.69 530.05 L978.91 528.78 L981.12 527.50 L983.34 526.21 L985.56 524.92 L987.78 523.63 L989.99 522.34 L992.21 521.04 L994.43 519.74 L996.64 518.43" fill="none" stroke="#0000FF" stroke-width="3.4" stroke-linejoin="round"/><path d="M347.98 -30.01V-75.78 M361.37 21.07V-23.94 M374.85 69.74V25.49 M388.41 116.03V72.56 M402.06 160.00V117.30 M415.80 201.69V159.77 M429.62 240.88V200.21 M443.52 277.86V238.45 M457.51 312.65V274.52 M471.59 345.30V308.45 M485.76 375.85V340.28 M500.01 404.32V370.04 M514.35 430.76V397.79 M528.78 455.20V423.54 M543.29 477.69V447.36 M557.90 498.43V469.10 M572.59 517.81V488.48 M587.37 535.37V506.04 M602.24 551.15V521.82 M617.20 565.20V535.87 M632.25 577.57V548.24 M647.39 588.31V558.98 M662.62 597.47V568.14 M677.94 605.10V575.77 M693.35 611.26V581.93 M708.85 616.01V586.68 M724.44 619.39V590.06 M740.13 621.51V592.11 M755.90 622.71V592.59 M771.77 622.73V591.89 M787.73 621.63V590.06 M803.78 619.47V587.18 M819.93 616.32V583.30 M836.17 613.35V577.38 M852.50 611.75V568.35 M868.93 610.10V557.77 M885.44 616.40V537.78 M902.06 609.78V529.37 M918.77 602.09V520.83 M935.57 593.87V511.76 M952.46 585.18V502.22 M969.46 576.06V492.32 M986.55 565.05V483.64" fill="none" stroke="#0000FF" stroke-width="3.0"/>
<path d="M112.06 129.44 L114.27 162.64 L116.49 194.37 L118.71 224.71 L120.92 253.71 L123.14 281.45 L125.36 307.99 L127.58 333.39 L129.79 357.70 L132.01 380.98 L134.23 403.28 L136.44 424.65 L138.66 445.15 L140.88 464.80 L143.09 483.66 L145.31 501.76 L147.53 519.16 L149.75 535.87 L151.96 551.94 L154.18 567.40 L156.40 582.28 L158.61 596.61 L160.83 610.43 L163.05 623.75 L165.26 636.61 L167.48 649.02 L169.70 661.02 L171.92 672.62 L174.13 683.84 L176.35 694.71 L178.57 705.25 L180.78 715.46 L183.00 725.37 L185.22 735.00 L187.43 744.36 L189.65 753.45 L191.87 762.31 L194.09 770.93 L196.30 779.34 L198.52 787.54 L200.74 795.54 L202.95 803.36 L205.17 810.99 L207.39 818.46 L209.61 825.77 L211.82 832.93 L214.04 839.95 L216.26 846.82 L218.47 853.57 L220.69 860.19 L222.91 866.69 L225.12 873.07 L227.34 879.35 L229.56 885.52 L231.78 891.59 L233.99 897.57 L236.21 903.45 L238.43 909.25 L240.64 914.96 L242.86 920.58 L245.08 926.13 L247.29 931.60 L249.51 936.99 L251.73 942.32 L253.95 947.57 L256.16 952.75 L258.38 957.87 L260.60 962.92 L262.81 967.91 L265.03 972.84 L267.25 977.70 L269.46 982.51 L271.68 987.25 L273.90 991.94 L276.12 996.57 L278.33 1001.14 L280.55 1005.66 L282.77 1010.12 L284.98 1014.53 L287.20 1018.88 L289.42 1023.18 L291.63 1027.42 L293.85 1031.62 L296.07 1035.76 L298.29 1039.84 L300.50 1043.88 L302.72 1047.86 L304.94 1051.79 L307.15 1055.67 L309.37 1059.50 L311.59 1063.27 L313.80 1066.99 L316.02 1070.67 L318.24 1074.29 L320.46 1077.86 L322.67 1081.38 L324.89 1084.85 L327.11 1088.26 L329.32 1091.63 L331.54 1094.94 L333.76 1098.21 L335.97 1101.42 L338.19 1104.58 L340.41 1107.69 L342.63 1110.75 L344.84 1113.76 L347.06 1116.72 L349.28 1119.63 L351.49 1122.49 L353.71 1125.30 L355.93 1128.06 L358.14 1130.76 L360.36 1133.42 L362.58 1136.03 L364.80 1138.59 L367.01 1141.10 L369.23 1143.56 L371.45 1145.97 L373.66 1148.33 L375.88 1150.64 L378.10 1152.91 L380.31 1155.12 L382.53 1157.29 L384.75 1159.41 L386.97 1161.48 L389.18 1163.51 L391.40 1165.48 L393.62 1167.41 L395.83 1169.30 L398.05 1171.13 L400.27 1172.92 L402.48 1174.67 L404.70 1176.37 L406.92 1178.02 L409.14 1179.63 L411.35 1181.20 L413.57 1182.72 L415.79 1184.19 L418.00 1185.63 L420.22 1187.02 L422.44 1188.36 L424.65 1189.67 L426.87 1190.93 L429.09 1192.15 L431.31 1193.33 L433.52 1194.47 L435.74 1195.56 L437.96 1196.62 L440.17 1197.64 L442.39 1198.61 L444.61 1199.55 L446.83 1200.45 L449.04 1201.31 L451.26 1202.14 L453.48 1202.92 L455.69 1203.67 L457.91 1204.38 L460.13 1205.06 L462.34 1205.70 L464.56 1206.30 L466.78 1206.87 L469.00 1207.40 L471.21 1207.90 L473.43 1208.37 L475.65 1208.80 L477.86 1209.19 L480.08 1209.56 L482.30 1209.89 L484.51 1210.19 L486.73 1210.46 L488.95 1210.69 L491.17 1210.90 L493.38 1211.07 L495.60 1211.22 L497.82 1211.33 L500.03 1211.41 L502.25 1211.46 L504.47 1211.49 L506.68 1211.48 L508.90 1211.45 L511.12 1211.39 L513.34 1211.30 L515.55 1211.18 L517.77 1211.04 L519.99 1210.87 L522.20 1210.67 L524.42 1210.44 L526.64 1210.19 L528.85 1209.91 L531.07 1209.61 L533.29 1209.28 L535.51 1208.92 L537.72 1208.55 L539.94 1208.14 L542.16 1207.71 L544.37 1207.26 L546.59 1206.78 L548.81 1206.28 L551.02 1205.75 L553.24 1205.21 L555.46 1204.63 L557.68 1204.04 L559.89 1203.42 L562.11 1202.78 L564.33 1202.11 L566.54 1201.43 L568.76 1200.72 L570.98 1199.99 L573.19 1199.23 L575.41 1198.46 L577.63 1197.66 L579.85 1196.84 L582.06 1196.00 L584.28 1195.14 L586.50 1194.26 L588.71 1193.35 L590.93 1192.42 L593.15 1191.48 L595.36 1190.51 L597.58 1189.52 L599.80 1188.51 L602.02 1187.48 L604.23 1186.43 L606.45 1185.36 L608.67 1184.26 L610.88 1183.15 L613.10 1182.02 L615.32 1180.87 L617.53 1179.69 L619.75 1178.50 L621.97 1177.28 L624.19 1176.05 L626.40 1174.79 L628.62 1173.52 L630.84 1172.22 L633.05 1170.91 L635.27 1169.57 L637.49 1168.22 L639.70 1166.84 L641.92 1165.45 L644.14 1164.03 L646.36 1162.59 L648.57 1161.14 L650.79 1159.66 L653.01 1158.17 L655.22 1156.65 L657.44 1155.12 L659.66 1153.57 L661.87 1151.99 L664.09 1150.40 L666.31 1148.78 L668.53 1147.15 L670.74 1145.50 L672.96 1143.82 L675.18 1142.13 L677.39 1140.42 L679.61 1138.68 L681.83 1136.93 L684.05 1135.16 L686.26 1133.37 L688.48 1131.56 L690.70 1129.73 L692.91 1127.88 L695.13 1126.01 L697.35 1124.12 L699.56 1122.21 L701.78 1120.28 L704.00 1118.33 L706.22 1116.37 L708.43 1114.38 L710.65 1112.38 L712.87 1110.35 L715.08 1108.31 L717.30 1106.25 L719.52 1104.17 L721.73 1102.07 L723.95 1099.95 L726.17 1097.81 L728.39 1095.66 L730.60 1093.48 L732.82 1091.29 L735.04 1089.08 L737.25 1086.85 L739.47 1084.61 L741.69 1082.34 L743.90 1080.06 L746.12 1077.76 L748.34 1075.44 L750.56 1073.11 L752.77 1070.76 L754.99 1068.39 L757.21 1066.01 L759.42 1063.60 L761.64 1061.19 L763.86 1058.75 L766.07 1056.30 L768.29 1053.84 L770.51 1051.36 L772.73 1048.86 L774.94 1046.35 L777.16 1043.82 L779.38 1041.28 L781.59 1038.73 L783.81 1036.16 L786.03 1033.57 L788.24 1030.98 L790.46 1028.37 L792.68 1025.75 L794.90 1023.11 L797.11 1020.47 L799.33 1017.81 L801.55 1015.14 L803.76 1012.46 L805.98 1009.77 L808.20 1007.06 L810.41 1004.35 L812.63 1001.63 L814.85 998.90 L817.07 996.16 L819.28 993.42 L821.50 990.66 L823.72 987.90 L825.93 985.13 L828.15 982.36 L830.37 979.57 L832.58 976.79 L834.80 974.00 L837.02 971.20 L839.24 968.40 L841.45 965.60 L843.67 962.79 L845.89 959.99 L848.10 957.18 L850.32 954.37 L852.54 951.56 L854.75 948.75 L856.97 945.94 L859.19 943.13 L861.41 940.33 L863.62 937.52 L865.84 934.73 L868.06 931.93 L870.27 929.14 L872.49 926.36 L874.71 923.58 L876.92 920.81 L879.14 918.05 L881.36 915.30 L883.58 912.56 L885.79 909.82 L888.01 907.10 L890.23 904.39 L892.44 901.69 L894.66 899.01 L896.88 896.34 L899.09 893.69 L901.31 891.05 L903.53 888.43 L905.75 885.83 L907.96 883.25 L910.18 880.69 L912.40 878.14 L914.61 875.63 L916.83 873.13 L919.05 870.66 L921.27 868.21 L923.48 865.79 L925.70 863.39 L927.92 861.03 L930.13 858.69 L932.35 856.38 L934.57 854.11 L936.78 851.86 L939.00 849.65 L941.22 847.48 L943.44 845.34 L945.65 843.24 L947.87 841.17 L950.09 839.15 L952.30 837.16 L954.52 835.22 L956.74 833.32 L958.95 831.46 L961.17 829.65 L963.39 827.89 L965.61 826.18 L967.82 824.51 L970.04 822.90 L972.26 821.33 L974.47 819.82 L976.69 818.37 L978.91 816.97 L981.12 815.63 L983.34 814.35 L985.56 813.13 L987.78 811.97 L989.99 810.87 L992.21 809.84 L994.43 808.87 L996.64 807.97" fill="none" stroke="#FF0000" stroke-width="3.4" stroke-linejoin="round"/><path d="M128.08 343.90V334.22 M138.94 452.52V442.88 M149.87 541.58V531.98 M160.86 615.40V605.83 M171.92 677.41V667.87 M183.04 730.32V720.81 M194.24 776.25V766.78 M205.50 816.82V807.38 M216.82 853.26V843.85 M228.22 886.48V877.11 M239.68 917.14V907.81 M251.21 945.72V936.42 M262.80 972.52V963.26 M274.47 997.75V988.52 M286.20 1021.35V1012.51 M298.01 1043.48V1035.18 M309.88 1064.24V1056.48 M321.82 1083.64V1076.42 M333.83 1101.65V1094.97 M345.91 1118.25V1112.13 M358.06 1133.44V1127.87 M370.28 1147.22V1142.19 M382.56 1159.96V1154.69 M394.92 1171.28V1165.77 M407.35 1181.22V1175.46 M419.85 1189.79V1183.79 M432.43 1197.03V1190.79 M445.07 1203.16V1196.32 M457.78 1208.10V1200.58 M470.57 1211.86V1203.66 M483.42 1214.49V1205.61 M496.35 1215.94V1206.57 M509.35 1216.27V1206.61 M522.43 1215.62V1205.67 M535.57 1214.04V1203.78 M548.79 1211.59V1200.98 M562.08 1208.34V1197.23 M575.45 1204.26V1192.63 M588.88 1199.35V1187.21 M602.39 1193.61V1181.00 M615.98 1186.96V1174.08 M629.64 1179.50V1166.35 M643.37 1171.26V1157.79 M657.18 1162.74V1147.86 M671.06 1153.41V1137.10 M685.02 1143.58V1125.17 M699.05 1132.50V1112.81 M713.15 1120.14V1100.04 M727.33 1106.94V1086.42 M741.59 1092.50V1072.38 M755.92 1077.24V1057.54 M770.33 1061.71V1041.39 M784.82 1045.46V1024.51 M799.38 1028.85V1006.65 M814.02 1011.72V988.13 M828.73 993.70V969.56 M843.52 974.82V951.15 M858.39 955.53V932.76 M873.34 936.21V914.39 M888.36 917.10V896.25 M903.46 898.60V878.44 M918.64 881.49V860.74 M933.89 865.52V844.07 M949.23 851.00V828.85 M964.64 838.34V815.49 M980.13 831.75V800.69" fill="none" stroke="#FF0000" stroke-width="3.0"/>
<path d="M112.06 461.53 L114.27 486.11 L116.49 509.56 L118.71 531.96 L120.92 553.36 L123.14 573.83 L125.36 593.41 L127.58 612.17 L129.79 630.14 L132.01 647.38 L134.23 663.92 L136.44 679.81 L138.66 695.08 L140.88 709.78 L143.09 723.93 L145.31 737.57 L147.53 750.73 L149.75 763.44 L151.96 775.71 L154.18 787.59 L156.40 799.09 L158.61 810.24 L160.83 821.05 L163.05 831.54 L165.26 841.74 L167.48 851.66 L169.70 861.32 L171.92 870.72 L174.13 879.90 L176.35 888.85 L178.57 897.60 L180.78 906.14 L183.00 914.50 L185.22 922.69 L187.43 930.71 L189.65 938.57 L191.87 946.27 L194.09 953.84 L196.30 961.27 L198.52 968.57 L200.74 975.75 L202.95 982.81 L205.17 989.75 L207.39 996.59 L209.61 1003.33 L211.82 1009.96 L214.04 1016.50 L216.26 1022.94 L218.47 1029.30 L220.69 1035.57 L222.91 1041.75 L225.12 1047.85 L227.34 1053.87 L229.56 1059.82 L231.78 1065.69 L233.99 1071.48 L236.21 1077.20 L238.43 1082.85 L240.64 1088.43 L242.86 1093.94 L245.08 1099.39 L247.29 1104.76 L249.51 1110.07 L251.73 1115.31 L253.95 1120.49 L256.16 1125.60 L258.38 1130.65 L260.60 1135.63 L262.81 1140.55 L265.03 1145.41 L267.25 1150.20 L269.46 1154.94 L271.68 1159.61 L273.90 1164.21 L276.12 1168.76 L278.33 1173.24 L280.55 1177.67 L282.77 1182.03 L284.98 1186.33 L287.20 1190.57 L289.42 1194.74 L291.63 1198.86 L293.85 1202.92 L296.07 1206.91 L298.29 1210.85 L300.50 1214.72 L302.72 1218.54 L304.94 1222.29 L307.15 1225.98 L309.37 1229.62 L311.59 1233.19 L313.80 1236.71 L316.02 1240.16 L318.24 1243.56 L320.46 1246.89 L322.67 1250.17 L324.89 1253.39 L327.11 1256.55 L329.32 1259.65 L331.54 1262.70 L333.76 1265.68 L335.97 1268.61 L338.19 1271.49 L340.41 1274.30 L342.63 1277.06 L344.84 1279.76 L347.06 1282.41 L349.28 1285.00 L351.49 1287.54 L353.71 1290.02 L355.93 1292.44 L358.14 1294.81 L360.36 1297.13 L362.58 1299.40 L364.80 1301.61 L367.01 1303.77 L369.23 1305.88 L371.45 1307.93 L373.66 1309.93 L375.88 1311.89 L378.10 1313.79 L380.31 1315.64 L382.53 1317.44 L384.75 1319.19 L386.97 1320.90 L389.18 1322.55 L391.40 1324.16 L393.62 1325.72 L395.83 1327.23 L398.05 1328.69 L400.27 1330.11 L402.48 1331.49 L404.70 1332.82 L406.92 1334.10 L409.14 1335.34 L411.35 1336.53 L413.57 1337.68 L415.79 1338.79 L418.00 1339.85 L420.22 1340.88 L422.44 1341.86 L424.65 1342.80 L426.87 1343.70 L429.09 1344.55 L431.31 1345.37 L433.52 1346.15 L435.74 1346.89 L437.96 1347.59 L440.17 1348.25 L442.39 1348.87 L444.61 1349.46 L446.83 1350.01 L449.04 1350.52 L451.26 1350.99 L453.48 1351.43 L455.69 1351.83 L457.91 1352.20 L460.13 1352.53 L462.34 1352.83 L464.56 1353.09 L466.78 1353.32 L469.00 1353.52 L471.21 1353.68 L473.43 1353.81 L475.65 1353.90 L477.86 1353.97 L480.08 1354.00 L482.30 1354.00 L484.51 1353.97 L486.73 1353.91 L488.95 1353.82 L491.17 1353.69 L493.38 1353.54 L495.60 1353.35 L497.82 1353.14 L500.03 1352.90 L502.25 1352.63 L504.47 1352.33 L506.68 1352.00 L508.90 1351.64 L511.12 1351.25 L513.34 1350.84 L515.55 1350.39 L517.77 1349.93 L519.99 1349.43 L522.20 1348.90 L524.42 1348.35 L526.64 1347.78 L528.85 1347.17 L531.07 1346.54 L533.29 1345.89 L535.51 1345.20 L537.72 1344.50 L539.94 1343.76 L542.16 1343.00 L544.37 1342.22 L546.59 1341.41 L548.81 1340.58 L551.02 1339.72 L553.24 1338.84 L555.46 1337.93 L557.68 1337.00 L559.89 1336.04 L562.11 1335.06 L564.33 1334.06 L566.54 1333.04 L568.76 1331.99 L570.98 1330.91 L573.19 1329.82 L575.41 1328.70 L577.63 1327.55 L579.85 1326.39 L582.06 1325.20 L584.28 1323.99 L586.50 1322.76 L588.71 1321.50 L590.93 1320.23 L593.15 1318.93 L595.36 1317.61 L597.58 1316.26 L599.80 1314.90 L602.02 1313.51 L604.23 1312.11 L606.45 1310.68 L608.67 1309.23 L610.88 1307.76 L613.10 1306.27 L615.32 1304.75 L617.53 1303.22 L619.75 1301.67 L621.97 1300.09 L624.19 1298.50 L626.40 1296.88 L628.62 1295.25 L630.84 1293.59 L633.05 1291.92 L635.27 1290.23 L637.49 1288.51 L639.70 1286.78 L641.92 1285.02 L644.14 1283.25 L646.36 1281.46 L648.57 1279.65 L650.79 1277.82 L653.01 1275.97 L655.22 1274.10 L657.44 1272.22 L659.66 1270.31 L661.87 1268.39 L664.09 1266.45 L666.31 1264.49 L668.53 1262.51 L670.74 1260.52 L672.96 1258.51 L675.18 1256.48 L677.39 1254.43 L679.61 1252.36 L681.83 1250.28 L684.05 1248.18 L686.26 1246.07 L688.48 1243.94 L690.70 1241.79 L692.91 1239.62 L695.13 1237.44 L697.35 1235.24 L699.56 1233.02 L701.78 1230.79 L704.00 1228.55 L706.22 1226.29 L708.43 1224.01 L710.65 1221.71 L712.87 1219.41 L715.08 1217.08 L717.30 1214.74 L719.52 1212.39 L721.73 1210.02 L723.95 1207.64 L726.17 1205.24 L728.39 1202.83 L730.60 1200.41 L732.82 1197.97 L735.04 1195.52 L737.25 1193.05 L739.47 1190.57 L741.69 1188.08 L743.90 1185.57 L746.12 1183.05 L748.34 1180.52 L750.56 1177.97 L752.77 1175.41 L754.99 1172.84 L757.21 1170.26 L759.42 1167.66 L761.64 1165.06 L763.86 1162.44 L766.07 1159.81 L768.29 1157.17 L770.51 1154.51 L772.73 1151.85 L774.94 1149.17 L777.16 1146.48 L779.38 1143.79 L781.59 1141.08 L783.81 1138.36 L786.03 1135.63 L788.24 1132.89 L790.46 1130.14 L792.68 1127.38 L794.90 1124.60 L797.11 1121.82 L799.33 1119.03 L801.55 1116.23 L803.76 1113.43 L805.98 1110.61 L808.20 1107.78 L810.41 1104.94 L812.63 1102.10 L814.85 1099.24 L817.07 1096.38 L819.28 1093.51 L821.50 1090.63 L823.72 1087.74 L825.93 1084.84 L828.15 1081.93 L830.37 1079.02 L832.58 1076.10 L834.80 1073.17 L837.02 1070.23 L839.24 1067.28 L841.45 1064.33 L843.67 1061.37 L845.89 1058.40 L848.10 1055.42 L850.32 1052.44 L852.54 1049.44 L854.75 1046.44 L856.97 1043.44 L859.19 1040.42 L861.41 1037.40 L863.62 1034.37 L865.84 1031.33 L868.06 1028.29 L870.27 1025.24 L872.49 1022.18 L874.71 1019.12 L876.92 1016.04 L879.14 1012.96 L881.36 1009.87 L883.58 1006.78 L885.79 1003.68 L888.01 1000.57 L890.23 997.45 L892.44 994.32 L894.66 991.19 L896.88 988.05 L899.09 984.90 L901.31 981.75 L903.53 978.58 L905.75 975.41 L907.96 972.23 L910.18 969.04 L912.40 965.85 L914.61 962.64 L916.83 959.43 L919.05 956.21 L921.27 952.98 L923.48 949.74 L925.70 946.49 L927.92 943.23 L930.13 939.96 L932.35 936.69 L934.57 933.40 L936.78 930.10 L939.00 926.80 L941.22 923.48 L943.44 920.15 L945.65 916.81 L947.87 913.46 L950.09 910.10 L952.30 906.73 L954.52 903.34 L956.74 899.94 L958.95 896.53 L961.17 893.11 L963.39 889.68 L965.61 886.23 L967.82 882.77 L970.04 879.29 L972.26 875.80 L974.47 872.29 L976.69 868.77 L978.91 865.23 L981.12 861.68 L983.34 858.11 L985.56 854.53 L987.78 850.93 L989.99 847.31 L992.21 843.67 L994.43 840.01 L996.64 836.34" fill="none" stroke="#FF00FF" stroke-width="3.4" stroke-linejoin="round"/><path d="M129.59 632.29V624.75 M141.02 714.49V706.95 M152.53 782.56V775.02 M164.11 840.24V832.70 M175.77 890.29V882.74 M187.49 934.69V927.15 M199.30 974.87V967.33 M211.17 1011.80V1004.26 M223.13 1046.12V1038.58 M235.15 1078.25V1070.71 M247.25 1108.43V1100.89 M259.43 1136.79V1129.24 M271.68 1163.38V1155.83 M284.01 1188.22V1180.67 M296.41 1211.30V1203.76 M308.89 1232.61V1225.07 M321.45 1252.14V1244.60 M334.08 1269.89V1262.34 M346.79 1285.86V1278.32 M359.58 1300.09V1292.55 M372.44 1312.61V1305.06 M385.38 1323.46V1315.91 M398.40 1332.69V1325.15 M411.50 1340.38V1332.84 M424.68 1346.59V1339.03 M437.93 1351.38V1343.78 M451.26 1354.80V1347.18 M464.68 1356.93V1349.28 M478.17 1357.82V1350.13 M491.74 1357.51V1349.80 M505.39 1356.06V1348.32 M519.12 1353.51V1345.74 M532.93 1349.90V1342.09 M546.82 1345.25V1337.41 M560.79 1339.58V1331.71 M574.84 1332.94V1325.03 M588.98 1325.32V1317.39 M603.19 1316.75V1308.79 M617.49 1307.25V1299.25 M631.87 1296.83V1288.80 M646.33 1285.52V1277.45 M660.87 1273.31V1265.22 M675.49 1260.25V1252.12 M690.20 1246.35V1238.18 M704.99 1231.63V1223.43 M719.87 1216.13V1207.90 M734.82 1199.88V1191.62 M749.86 1182.92V1174.61 M764.99 1165.26V1156.93 M780.20 1146.97V1138.60 M795.49 1128.11V1119.61 M810.87 1108.70V1100.02 M826.33 1088.75V1079.89 M841.88 1068.27V1059.24 M857.51 1047.31V1038.10 M873.23 1025.85V1016.47 M889.03 1003.91V994.34 M904.92 981.46V971.71 M920.90 958.47V948.54 M936.96 934.89V924.78 M953.11 910.64V900.34 M969.35 885.62V875.13 M985.67 859.84V848.85" fill="none" stroke="#FF00FF" stroke-width="3.0"/>
<path d="M112.06 658.27 L114.27 672.54 L116.49 686.47 L118.71 700.08 L120.92 713.38 L123.14 726.39 L125.36 739.11 L127.58 751.56 L129.79 763.74 L132.01 775.68 L134.23 787.38 L136.44 798.86 L138.66 810.10 L140.88 821.14 L143.09 831.98 L145.31 842.61 L147.53 853.06 L149.75 863.32 L151.96 873.41 L154.18 883.33 L156.40 893.08 L158.61 902.67 L160.83 912.11 L163.05 921.39 L165.26 930.53 L167.48 939.53 L169.70 948.39 L171.92 957.12 L174.13 965.71 L176.35 974.18 L178.57 982.53 L180.78 990.75 L183.00 998.86 L185.22 1006.84 L187.43 1014.72 L189.65 1022.48 L191.87 1030.14 L194.09 1037.69 L196.30 1045.13 L198.52 1052.47 L200.74 1059.71 L202.95 1066.85 L205.17 1073.89 L207.39 1080.83 L209.61 1087.68 L211.82 1094.44 L214.04 1101.10 L216.26 1107.67 L218.47 1114.16 L220.69 1120.55 L222.91 1126.85 L225.12 1133.07 L227.34 1139.20 L229.56 1145.25 L231.78 1151.21 L233.99 1157.09 L236.21 1162.89 L238.43 1168.60 L240.64 1174.24 L242.86 1179.79 L245.08 1185.27 L247.29 1190.67 L249.51 1195.99 L251.73 1201.23 L253.95 1206.39 L256.16 1211.49 L258.38 1216.50 L260.60 1221.44 L262.81 1226.31 L265.03 1231.10 L267.25 1235.82 L269.46 1240.47 L271.68 1245.05 L273.90 1249.56 L276.12 1253.99 L278.33 1258.36 L280.55 1262.66 L282.77 1266.89 L284.98 1271.05 L287.20 1275.14 L289.42 1279.16 L291.63 1283.12 L293.85 1287.02 L296.07 1290.84 L298.29 1294.61 L300.50 1298.30 L302.72 1301.94 L304.94 1305.51 L307.15 1309.02 L309.37 1312.46 L311.59 1315.84 L313.80 1319.16 L316.02 1322.42 L318.24 1325.62 L320.46 1328.76 L322.67 1331.84 L324.89 1334.86 L327.11 1337.82 L329.32 1340.72 L331.54 1343.57 L333.76 1346.35 L335.97 1349.09 L338.19 1351.76 L340.41 1354.38 L342.63 1356.94 L344.84 1359.45 L347.06 1361.90 L349.28 1364.30 L351.49 1366.64 L353.71 1368.93 L355.93 1371.17 L358.14 1373.35 L360.36 1375.48 L362.58 1377.56 L364.80 1379.59 L367.01 1381.57 L369.23 1383.50 L371.45 1385.38 L373.66 1387.20 L375.88 1388.98 L378.10 1390.71 L380.31 1392.39 L382.53 1394.02 L384.75 1395.60 L386.97 1397.14 L389.18 1398.63 L391.40 1400.07 L393.62 1401.47 L395.83 1402.82 L398.05 1404.12 L400.27 1405.38 L402.48 1406.59 L404.70 1407.76 L406.92 1408.88 L409.14 1409.96 L411.35 1411.00 L413.57 1411.99 L415.79 1412.94 L418.00 1413.85 L420.22 1414.71 L422.44 1415.53 L424.65 1416.31 L426.87 1417.05 L429.09 1417.75 L431.31 1418.40 L433.52 1419.02 L435.74 1419.59 L437.96 1420.13 L440.17 1420.62 L442.39 1421.08 L444.61 1421.49 L446.83 1421.87 L449.04 1422.21 L451.26 1422.51 L453.48 1422.77 L455.69 1423.00 L457.91 1423.18 L460.13 1423.33 L462.34 1423.45 L464.56 1423.52 L466.78 1423.56 L469.00 1423.56 L471.21 1423.53 L473.43 1423.46 L475.65 1423.36 L477.86 1423.22 L480.08 1423.04 L482.30 1422.83 L484.51 1422.59 L486.73 1422.31 L488.95 1422.00 L491.17 1421.65 L493.38 1421.28 L495.60 1420.86 L497.82 1420.42 L500.03 1419.94 L502.25 1419.43 L504.47 1418.89 L506.68 1418.31 L508.90 1417.70 L511.12 1417.06 L513.34 1416.39 L515.55 1415.69 L517.77 1414.96 L519.99 1414.20 L522.20 1413.40 L524.42 1412.58 L526.64 1411.73 L528.85 1410.84 L531.07 1409.93 L533.29 1408.99 L535.51 1408.02 L537.72 1407.02 L539.94 1405.99 L542.16 1404.93 L544.37 1403.85 L546.59 1402.73 L548.81 1401.59 L551.02 1400.42 L553.24 1399.23 L555.46 1398.00 L557.68 1396.76 L559.89 1395.48 L562.11 1394.18 L564.33 1392.85 L566.54 1391.49 L568.76 1390.11 L570.98 1388.71 L573.19 1387.28 L575.41 1385.82 L577.63 1384.34 L579.85 1382.84 L582.06 1381.31 L584.28 1379.75 L586.50 1378.18 L588.71 1376.58 L590.93 1374.95 L593.15 1373.31 L595.36 1371.64 L597.58 1369.94 L599.80 1368.23 L602.02 1366.49 L604.23 1364.73 L606.45 1362.95 L608.67 1361.15 L610.88 1359.32 L613.10 1357.48 L615.32 1355.61 L617.53 1353.72 L619.75 1351.81 L621.97 1349.89 L624.19 1347.94 L626.40 1345.97 L628.62 1343.99 L630.84 1341.98 L633.05 1339.95 L635.27 1337.91 L637.49 1335.85 L639.70 1333.77 L641.92 1331.67 L644.14 1329.55 L646.36 1327.41 L648.57 1325.26 L650.79 1323.09 L653.01 1320.90 L655.22 1318.70 L657.44 1316.48 L659.66 1314.24 L661.87 1311.99 L664.09 1309.72 L666.31 1307.44 L668.53 1305.13 L670.74 1302.82 L672.96 1300.49 L675.18 1298.14 L677.39 1295.78 L679.61 1293.40 L681.83 1291.01 L684.05 1288.61 L686.26 1286.19 L688.48 1283.76 L690.70 1281.31 L692.91 1278.85 L695.13 1276.38 L697.35 1273.90 L699.56 1271.40 L701.78 1268.89 L704.00 1266.36 L706.22 1263.83 L708.43 1261.28 L710.65 1258.72 L712.87 1256.15 L715.08 1253.56 L717.30 1250.97 L719.52 1248.36 L721.73 1245.74 L723.95 1243.11 L726.17 1240.47 L728.39 1237.82 L730.60 1235.16 L732.82 1232.49 L735.04 1229.81 L737.25 1227.12 L739.47 1224.41 L741.69 1221.70 L743.90 1218.98 L746.12 1216.25 L748.34 1213.51 L750.56 1210.76 L752.77 1208.00 L754.99 1205.23 L757.21 1202.45 L759.42 1199.66 L761.64 1196.86 L763.86 1194.06 L766.07 1191.24 L768.29 1188.42 L770.51 1185.59 L772.73 1182.75 L774.94 1179.90 L777.16 1177.04 L779.38 1174.17 L781.59 1171.30 L783.81 1168.41 L786.03 1165.52 L788.24 1162.62 L790.46 1159.71 L792.68 1156.80 L794.90 1153.87 L797.11 1150.94 L799.33 1148.00 L801.55 1145.05 L803.76 1142.09 L805.98 1139.12 L808.20 1136.14 L810.41 1133.16 L812.63 1130.17 L814.85 1127.17 L817.07 1124.16 L819.28 1121.14 L821.50 1118.11 L823.72 1115.08 L825.93 1112.03 L828.15 1108.98 L830.37 1105.91 L832.58 1102.84 L834.80 1099.76 L837.02 1096.67 L839.24 1093.57 L841.45 1090.46 L843.67 1087.34 L845.89 1084.21 L848.10 1081.07 L850.32 1077.92 L852.54 1074.76 L854.75 1071.59 L856.97 1068.41 L859.19 1065.22 L861.41 1062.01 L863.62 1058.80 L865.84 1055.57 L868.06 1052.33 L870.27 1049.08 L872.49 1045.82 L874.71 1042.54 L876.92 1039.25 L879.14 1035.95 L881.36 1032.64 L883.58 1029.31 L885.79 1025.97 L888.01 1022.61 L890.23 1019.24 L892.44 1015.85 L894.66 1012.45 L896.88 1009.04 L899.09 1005.60 L901.31 1002.16 L903.53 998.69 L905.75 995.21 L907.96 991.71 L910.18 988.19 L912.40 984.66 L914.61 981.10 L916.83 977.53 L919.05 973.94 L921.27 970.33 L923.48 966.70 L925.70 963.04 L927.92 959.37 L930.13 955.67 L932.35 951.96 L934.57 948.21 L936.78 944.45 L939.00 940.66 L941.22 936.85 L943.44 933.02 L945.65 929.16 L947.87 925.27 L950.09 921.36 L952.30 917.42 L954.52 913.45 L956.74 909.45 L958.95 905.43 L961.17 901.37 L963.39 897.29 L965.61 893.17 L967.82 889.03 L970.04 884.85 L972.26 880.64 L974.47 876.40 L976.69 872.12 L978.91 867.81 L981.12 863.46 L983.34 859.08 L985.56 854.66 L987.78 850.20 L989.99 845.71 L992.21 841.17 L994.43 836.60 L996.64 831.98" fill="none" stroke="#008000" stroke-width="3.4" stroke-linejoin="round"/><path d="M126.25 748.15V740.11 M137.66 809.07V801.05 M149.15 864.57V856.57 M160.71 915.58V907.58 M172.34 962.76V954.78 M184.05 1006.62V998.66 M195.83 1047.52V1039.57 M207.68 1085.72V1077.78 M219.61 1121.41V1113.49 M231.62 1154.74V1146.83 M243.70 1185.81V1177.92 M255.85 1214.71V1206.84 M268.08 1241.50V1233.65 M280.38 1266.26V1258.42 M292.77 1289.03V1281.21 M305.22 1309.87V1302.06 M317.76 1328.83V1321.04 M330.37 1345.96V1338.18 M343.05 1361.31V1353.55 M355.82 1374.93V1367.19 M368.66 1386.87V1379.15 M381.58 1397.18V1389.47 M394.58 1405.90V1398.21 M407.65 1413.08V1405.41 M420.80 1418.76V1411.10 M434.03 1422.97V1415.33 M447.34 1425.76V1418.14 M460.73 1427.17V1419.57 M474.20 1427.22V1419.64 M487.75 1425.96V1418.39 M501.38 1423.41V1415.86 M515.08 1419.65V1412.04 M528.87 1414.70V1406.97 M542.74 1408.58V1400.72 M556.69 1401.31V1393.33 M570.71 1392.93V1384.82 M584.82 1383.49V1375.25 M599.01 1373.02V1364.65 M613.29 1361.75V1352.89 M627.64 1349.57V1340.16 M642.08 1336.50V1326.54 M656.60 1322.61V1312.05 M671.20 1308.28V1296.40 M685.88 1293.22V1280.00 M700.65 1278.52V1261.83 M715.50 1263.86V1242.30 M730.43 1249.22V1221.52 M745.44 1235.49V1198.68 M760.54 1218.75V1177.74 M775.73 1201.11V1156.66 M791.00 1182.46V1135.56 M806.35 1163.31V1113.94 M821.79 1143.64V1091.80 M837.31 1122.44V1070.09 M852.92 1104.60V1043.84 M868.61 1083.49V1019.56 M884.39 1062.24V993.93 M900.25 1038.89V968.72 M916.21 1014.56V942.52 M932.24 994.74V909.53 M948.37 971.23V877.56 M964.58 949.22V840.95 M980.87 918.42V809.48" fill="none" stroke="#008000" stroke-width="3.0"/>
</g>
<rect x="139.70" y="6.30" width="829.30" height="670.50" fill="none" stroke="#000" stroke-width="2.30" stroke-linejoin="miter"/>
<rect x="139.70" y="856.60" width="829.30" height="670.80" fill="none" stroke="#000" stroke-width="2.30" stroke-linejoin="miter"/>
<path d="M129.20 661.90H139.70 M139.70 676.80V687.30 M129.20 587.38H139.70 M243.36 676.80V687.30 M129.20 512.85H139.70 M347.02 676.80V687.30 M129.20 438.32H139.70 M450.69 676.80V687.30 M129.20 363.80H139.70 M554.35 676.80V687.30 M129.20 289.27H139.70 M658.01 676.80V687.30 M129.20 214.75H139.70 M761.67 676.80V687.30 M129.20 140.22H139.70 M865.34 676.80V687.30 M129.20 65.70H139.70 M969.00 676.80V687.30 M129.20 1526.95H139.70 M129.20 1422.20H139.70 M129.20 1317.45H139.70 M129.20 1212.70H139.70 M129.20 1107.95H139.70 M129.20 1003.20H139.70 M129.20 898.45H139.70 M139.70 1527.40V1537.90 M231.84 1527.40V1537.90 M323.99 1527.40V1537.90 M416.13 1527.40V1537.90 M508.28 1527.40V1537.90 M600.42 1527.40V1537.90 M692.57 1527.40V1537.90 M784.71 1527.40V1537.90 M876.86 1527.40V1537.90 M969.00 1527.40V1537.90" stroke="#000" stroke-width="2.30" fill="none"/>
<rect x="589.9" y="21.2" width="364.30" height="226.30" rx="6" ry="6" fill="#fff" fill-opacity="0.8" stroke="#cccccc" stroke-opacity="0.8" stroke-width="2.8"/>
<path d="M600 44.80H662.8M631.4 29.80V59.80" stroke="#FFA500" stroke-width="3.4" fill="none"/>
<path d="M600 88.22H662.8M631.4 73.22V103.22" stroke="#0000FF" stroke-width="3.4" fill="none"/>
<path d="M600 131.64H662.8M631.4 116.64V146.64" stroke="#FF0000" stroke-width="3.4" fill="none"/>
<path d="M600 175.06H662.8M631.4 160.06V190.06" stroke="#FF00FF" stroke-width="3.4" fill="none"/>
<path d="M600 218.48H662.8M631.4 203.48V233.48" stroke="#008000" stroke-width="3.4" fill="none"/>
<g opacity="0.999"><text font-family="Liberation Sans" font-size="37.8"  fill="#000" transform="translate(433.00 43.20) scale(1.0683 1.0000)">Density</text>
<text font-family="Liberation Sans" font-size="37.8"  fill="#000" transform="translate(434.08 82.80) scale(1.0624 1.0000)">range</text>
<text font-family="Liberation Sans" font-size="37.8"  fill="#000" transform="translate(434.95 122.40) scale(1.0493 1.0000)">sampled</text>
<text font-family="Liberation Sans" font-size="31.9" stroke="#000" stroke-width="0.5" fill="#000" transform="translate(685.10 55.60) scale(0.9826 1.0000)">ANI-ens</text>
<text font-family="Liberation Sans" font-size="31.9" stroke="#000" stroke-width="0.5" fill="#000" transform="translate(808.31 55.60) scale(1.0468 1.0000)">Diamond</text>
<text font-family="Liberation Sans" font-size="31.9" stroke="#000" stroke-width="0.5" fill="#000" transform="translate(685.10 99.02) scale(0.9826 1.0000)">ANI-ens</text>
<text font-family="Liberation Sans" font-size="31.9" stroke="#000" stroke-width="0.5" fill="#000" transform="translate(808.40 99.02) scale(0.8952 1.0000)">SC</text>
<text font-family="Liberation Sans" font-size="31.9" stroke="#000" stroke-width="0.5" fill="#000" transform="translate(685.10 142.44) scale(0.9826 1.0000)">ANI-ens</text>
<text font-family="Liberation Sans" font-size="31.9" stroke="#000" stroke-width="0.5" fill="#000" transform="translate(808.57 142.44) scale(0.9148 1.0000)">BCC</text>
<text font-family="Liberation Sans" font-size="31.9" stroke="#000" stroke-width="0.5" fill="#000" transform="translate(685.10 185.86) scale(0.9826 1.0000)">ANI-ens</text>
<text font-family="Liberation Sans" font-size="31.9" stroke="#000" stroke-width="0.5" fill="#000" transform="translate(808.58 185.86) scale(0.9094 1.0000)">HCP</text>
<text font-family="Liberation Sans" font-size="31.9" stroke="#000" stroke-width="0.5" fill="#000" transform="translate(685.10 229.28) scale(0.9826 1.0000)">ANI-ens</text>
<text font-family="Liberation Sans" font-size="31.9" stroke="#000" stroke-width="0.5" fill="#000" transform="translate(808.65 229.28) scale(0.8746 1.0000)">FCC</text>
<text font-family="Liberation Sans" font-size="44.9" stroke="#000" stroke-width="1.0" fill="#000" transform="translate(59.14 31.79) scale(0.8308 0.9814)">(</text>
<text font-family="Liberation Sans" font-size="44.9"  fill="#000" transform="translate(76.05 36.80) scale(0.9739 1.1500)">a</text>
<text font-family="Liberation Sans" font-size="44.9" stroke="#000" stroke-width="1.0" fill="#000" transform="translate(108.00 31.79) scale(0.8308 0.9814)">)</text>
<text font-family="Liberation Sans" font-size="44.9" stroke="#000" stroke-width="1.0" fill="#000" transform="translate(49.94 852.79) scale(0.8308 0.9814)">(</text>
<text font-family="Liberation Sans" font-size="44.9"  fill="#000" transform="translate(66.69 857.00) scale(1.1700 1.1375)">b</text>
<text font-family="Liberation Sans" font-size="44.9" stroke="#000" stroke-width="1.0" fill="#000" transform="translate(100.20 852.79) scale(0.8308 0.9814)">)</text>
<text font-family="Liberation Sans" font-size="44.0"  fill="#000" transform="translate(365.00 773.60) scale(1.0690 1.0000)">Volume</text>
<text font-family="Liberation Sans" font-size="44.0" stroke="#000" stroke-width="0.6" fill="#000" transform="translate(537.62 771.27) scale(0.6923 0.9146)">(</text>
<text font-family="Liberation Sans" font-size="44.0" font-style="italic" fill="#000" transform="translate(551.40 774.00) scale(0.9483 0.9872)">Å</text>
<text font-family="Liberation Sans" font-size="30.8"  fill="#000" transform="translate(584.97 758.50) scale(1.0333 1.0000)">3</text>
<text font-family="Liberation Sans" font-size="44.0"  fill="#000" transform="translate(603.75 778.00) scale(1.1625 1.0781)">/</text>
<text font-family="Liberation Sans" font-size="44.0"  fill="#000" transform="translate(618.04 773.60) scale(1.1048 1.0000)">atom</text>
<text font-family="Liberation Sans" font-size="44.0" stroke="#000" stroke-width="0.6" fill="#000" transform="translate(728.25 771.43) scale(0.7875 0.8963)">)</text>
<text font-family="Liberation Sans" font-size="44.0"  fill="#000" transform="translate(365.00 1624.40) scale(1.0690 1.0000)">Volume</text>
<text font-family="Liberation Sans" font-size="44.0" stroke="#000" stroke-width="0.6" fill="#000" transform="translate(537.62 1622.07) scale(0.6923 0.9146)">(</text>
<text font-family="Liberation Sans" font-size="44.0" font-style="italic" fill="#000" transform="translate(551.40 1624.80) scale(0.9483 0.9872)">Å</text>
<text font-family="Liberation Sans" font-size="30.8"  fill="#000" transform="translate(584.97 1609.30) scale(1.0333 1.0000)">3</text>
<text font-family="Liberation Sans" font-size="44.0"  fill="#000" transform="translate(603.75 1628.80) scale(1.1625 1.0781)">/</text>
<text font-family="Liberation Sans" font-size="44.0"  fill="#000" transform="translate(618.04 1624.40) scale(1.1048 1.0000)">atom</text>
<text font-family="Liberation Sans" font-size="44.0" stroke="#000" stroke-width="0.6" fill="#000" transform="translate(728.25 1622.23) scale(0.7875 0.8963)">)</text>
<text font-family="Liberation Sans" font-size="44.2" transform="translate(31.50 479.77) rotate(-90) scale(1.0185 0.9839)">Δ</text>
<text font-family="Liberation Sans" font-size="44.2" transform="translate(31.50 450.04) rotate(-90) scale(0.8229 0.9839)">E</text>
<text font-family="Liberation Sans" font-size="44.2" transform="translate(28.72 410.16) rotate(-90) scale(0.8545 0.8976)">(</text>
<text font-family="Liberation Sans" font-size="44.2" transform="translate(31.50 395.22) rotate(-90) scale(1.0616 1.0616)">eV/atom</text>
<text font-family="Liberation Sans" font-size="44.2" transform="translate(28.88 217.64) rotate(-90) scale(0.8864 0.9024)">)</text>
<text font-family="Liberation Sans" font-size="31.5" stroke="#000" stroke-width="0.6" fill="#000" transform="translate(53.35 673.65) scale(1.0500 1.0000)">0.00</text>
<text font-family="Liberation Sans" font-size="31.5" stroke="#000" stroke-width="0.6" fill="#000" transform="translate(53.35 599.12) scale(1.0500 1.0000)">0.25</text>
<text font-family="Liberation Sans" font-size="31.5" stroke="#000" stroke-width="0.6" fill="#000" transform="translate(53.35 524.60) scale(1.0500 1.0000)">0.50</text>
<text font-family="Liberation Sans" font-size="31.5" stroke="#000" stroke-width="0.6" fill="#000" transform="translate(53.35 450.07) scale(1.0500 1.0000)">0.75</text>
<text font-family="Liberation Sans" font-size="31.5" stroke="#000" stroke-width="0.6" fill="#000" transform="translate(53.35 375.55) scale(1.0500 1.0000)">1.00</text>
<text font-family="Liberation Sans" font-size="31.5" stroke="#000" stroke-width="0.6" fill="#000" transform="translate(53.35 301.02) scale(1.0500 1.0000)">1.25</text>
<text font-family="Liberation Sans" font-size="31.5" stroke="#000" stroke-width="0.6" fill="#000" transform="translate(53.35 226.50) scale(1.0500 1.0000)">1.50</text>
<text font-family="Liberation Sans" font-size="31.5" stroke="#000" stroke-width="0.6" fill="#000" transform="translate(53.35 151.97) scale(1.0500 1.0000)">1.75</text>
<text font-family="Liberation Sans" font-size="31.5" stroke="#000" stroke-width="0.6" fill="#000" transform="translate(53.35 77.45) scale(1.0500 1.0000)">2.00</text>
<text font-family="Liberation Sans" font-size="31.5" stroke="#000" stroke-width="0.6" fill="#000" transform="translate(106.62 720.40) scale(1.0500 1.0000)">10.0</text>
<text font-family="Liberation Sans" font-size="31.5" stroke="#000" stroke-width="0.6" fill="#000" transform="translate(210.29 720.40) scale(1.0500 1.0000)">12.5</text>
<text font-family="Liberation Sans" font-size="31.5" stroke="#000" stroke-width="0.6" fill="#000" transform="translate(313.95 720.40) scale(1.0500 1.0000)">15.0</text>
<text font-family="Liberation Sans" font-size="31.5" stroke="#000" stroke-width="0.6" fill="#000" transform="translate(417.61 720.40) scale(1.0500 1.0000)">17.5</text>
<text font-family="Liberation Sans" font-size="31.5" stroke="#000" stroke-width="0.6" fill="#000" transform="translate(521.80 720.40) scale(1.0500 1.0000)">20.0</text>
<text font-family="Liberation Sans" font-size="31.5" stroke="#000" stroke-width="0.6" fill="#000" transform="translate(625.46 720.40) scale(1.0500 1.0000)">22.5</text>
<text font-family="Liberation Sans" font-size="31.5" stroke="#000" stroke-width="0.6" fill="#000" transform="translate(729.12 720.40) scale(1.0500 1.0000)">25.0</text>
<text font-family="Liberation Sans" font-size="31.5" stroke="#000" stroke-width="0.6" fill="#000" transform="translate(832.79 720.40) scale(1.0500 1.0000)">27.5</text>
<text font-family="Liberation Sans" font-size="31.5" stroke="#000" stroke-width="0.6" fill="#000" transform="translate(936.45 720.40) scale(1.0500 1.0000)">30.0</text>
<text font-family="Liberation Sans" font-size="31.5" stroke="#000" stroke-width="0.6" fill="#000" transform="translate(29.70 1538.70) scale(1.1000 1.0000)">−0.05</text>
<text font-family="Liberation Sans" font-size="31.5" stroke="#000" stroke-width="0.6" fill="#000" transform="translate(52.75 1433.95) scale(1.0500 1.0000)">0.00</text>
<text font-family="Liberation Sans" font-size="31.5" stroke="#000" stroke-width="0.6" fill="#000" transform="translate(52.75 1329.20) scale(1.0500 1.0000)">0.05</text>
<text font-family="Liberation Sans" font-size="31.5" stroke="#000" stroke-width="0.6" fill="#000" transform="translate(52.75 1224.45) scale(1.0500 1.0000)">0.10</text>
<text font-family="Liberation Sans" font-size="31.5" stroke="#000" stroke-width="0.6" fill="#000" transform="translate(52.75 1119.70) scale(1.0500 1.0000)">0.15</text>
<text font-family="Liberation Sans" font-size="31.5" stroke="#000" stroke-width="0.6" fill="#000" transform="translate(52.75 1014.95) scale(1.0500 1.0000)">0.20</text>
<text font-family="Liberation Sans" font-size="31.5" stroke="#000" stroke-width="0.6" fill="#000" transform="translate(52.75 910.20) scale(1.0500 1.0000)">0.25</text>
<text font-family="Liberation Sans" font-size="31.5" stroke="#000" stroke-width="0.6" fill="#000" transform="translate(120.80 1570.50) scale(1.0500 1.0000)">13</text>
<text font-family="Liberation Sans" font-size="31.5" stroke="#000" stroke-width="0.6" fill="#000" transform="translate(212.42 1570.50) scale(1.0500 1.0000)">14</text>
<text font-family="Liberation Sans" font-size="31.5" stroke="#000" stroke-width="0.6" fill="#000" transform="translate(305.09 1570.50) scale(1.0500 1.0000)">15</text>
<text font-family="Liberation Sans" font-size="31.5" stroke="#000" stroke-width="0.6" fill="#000" transform="translate(397.23 1570.50) scale(1.0500 1.0000)">16</text>
<text font-family="Liberation Sans" font-size="31.5" stroke="#000" stroke-width="0.6" fill="#000" transform="translate(489.38 1570.50) scale(1.0500 1.0000)">17</text>
<text font-family="Liberation Sans" font-size="31.5" stroke="#000" stroke-width="0.6" fill="#000" transform="translate(581.52 1570.50) scale(1.0500 1.0000)">18</text>
<text font-family="Liberation Sans" font-size="31.5" stroke="#000" stroke-width="0.6" fill="#000" transform="translate(673.67 1570.50) scale(1.0500 1.0000)">19</text>
<text font-family="Liberation Sans" font-size="31.5" stroke="#000" stroke-width="0.6" fill="#000" transform="translate(766.34 1570.50) scale(1.0500 1.0000)">20</text>
<text font-family="Liberation Sans" font-size="31.5" stroke="#000" stroke-width="0.6" fill="#000" transform="translate(858.48 1570.50) scale(1.0500 1.0000)">21</text>
<text font-family="Liberation Sans" font-size="31.5" stroke="#000" stroke-width="0.6" fill="#000" transform="translate(950.62 1570.50) scale(1.0500 1.0000)">22</text></g>
</svg>
</body></html>
